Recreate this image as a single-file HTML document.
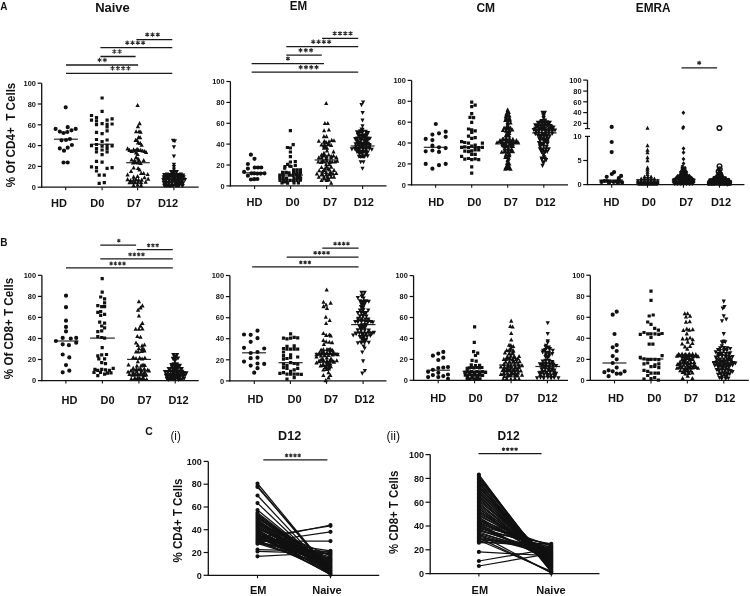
<!DOCTYPE html>
<html><head><meta charset="utf-8"><style>
html,body{margin:0;padding:0;background:#fff;}
svg{display:block;will-change:transform;}
text{font-family:"Liberation Sans",sans-serif;}
</style></head><body>
<svg width="750" height="596" viewBox="0 0 750 596">
<rect width="750" height="596" fill="#fff"/>
<text x="0.3" y="9.6" font-size="10" font-weight="bold" text-anchor="start" fill="#111">A</text><text x="112.5" y="12" font-size="12.2" font-weight="bold" text-anchor="middle" fill="#111" textLength="34.7" lengthAdjust="spacingAndGlyphs">Naive</text><line x1="41.7" y1="83.2" x2="41.7" y2="187.8" stroke="#111" stroke-width="1.3"/><line x1="37.7" y1="83.2" x2="41.7" y2="83.2" stroke="#111" stroke-width="1.2"/><text x="35.9" y="85.9" font-size="7.4" font-weight="bold" text-anchor="end" fill="#111">100</text><line x1="37.7" y1="104" x2="41.7" y2="104" stroke="#111" stroke-width="1.2"/><text x="35.9" y="106.7" font-size="7.4" font-weight="bold" text-anchor="end" fill="#111">80</text><line x1="37.7" y1="124.8" x2="41.7" y2="124.8" stroke="#111" stroke-width="1.2"/><text x="35.9" y="127.5" font-size="7.4" font-weight="bold" text-anchor="end" fill="#111">60</text><line x1="37.7" y1="145.6" x2="41.7" y2="145.6" stroke="#111" stroke-width="1.2"/><text x="35.9" y="148.2" font-size="7.4" font-weight="bold" text-anchor="end" fill="#111">40</text><line x1="37.7" y1="166.4" x2="41.7" y2="166.4" stroke="#111" stroke-width="1.2"/><text x="35.9" y="169" font-size="7.4" font-weight="bold" text-anchor="end" fill="#111">20</text><line x1="37.7" y1="187.2" x2="41.7" y2="187.2" stroke="#111" stroke-width="1.2"/><text x="35.9" y="189.8" font-size="7.4" font-weight="bold" text-anchor="end" fill="#111">0</text><line x1="41.1" y1="187.2" x2="198.7" y2="187.2" stroke="#111" stroke-width="1.3"/><line x1="65.7" y1="187.2" x2="65.7" y2="190.2" stroke="#111" stroke-width="1.1"/><line x1="102.1" y1="187.2" x2="102.1" y2="190.2" stroke="#111" stroke-width="1.1"/><line x1="137.6" y1="187.2" x2="137.6" y2="190.2" stroke="#111" stroke-width="1.1"/><line x1="173.9" y1="187.2" x2="173.9" y2="190.2" stroke="#111" stroke-width="1.1"/><text x="59" y="206.8" font-size="11" font-weight="bold" text-anchor="middle" fill="#111">HD</text><text x="97.3" y="206.8" font-size="11" font-weight="bold" text-anchor="middle" fill="#111">D0</text><text x="134" y="206.8" font-size="11" font-weight="bold" text-anchor="middle" fill="#111">D7</text><text x="168" y="206.8" font-size="11" font-weight="bold" text-anchor="middle" fill="#111">D12</text><text x="15.3" y="134.9" font-size="12.2" font-weight="bold" text-anchor="middle" fill="#111" transform="rotate(-90 15.3 134.9)" textLength="104.5" lengthAdjust="spacingAndGlyphs">% Of CD4+&#160; T Cells</text><line x1="136.4" y1="39.6" x2="172.3" y2="39.6" stroke="#1a1a1a" stroke-width="1.3"/><path d="M147.2 36.8L147.2 32.4M145.3 35.7L149.1 33.5M149.1 35.7L145.3 33.5M152.5 36.8L152.5 32.4M150.6 35.7L154.4 33.5M154.4 35.7L150.6 33.5M157.8 36.8L157.8 32.4M155.9 35.7L159.7 33.5M159.7 35.7L155.9 33.5" stroke="#2a2a2a" stroke-width="1.05" fill="none"/><line x1="100.4" y1="47.7" x2="172.3" y2="47.7" stroke="#1a1a1a" stroke-width="1.3"/><path d="M127.2 44.9L127.2 40.5M125.3 43.8L129.2 41.6M129.2 43.8L125.3 41.6M132.5 44.9L132.5 40.5M130.6 43.8L134.5 41.6M134.5 43.8L130.6 41.6M137.8 44.9L137.8 40.5M135.9 43.8L139.8 41.6M139.8 43.8L135.9 41.6M143.1 44.9L143.1 40.5M141.2 43.8L145.1 41.6M145.1 43.8L141.2 41.6" stroke="#2a2a2a" stroke-width="1.05" fill="none"/><line x1="100.4" y1="56.5" x2="135.6" y2="56.5" stroke="#1a1a1a" stroke-width="1.3"/><path d="M114.3 53.7L114.3 49.3M112.4 52.6L116.3 50.4M116.3 52.6L112.4 50.4M119.7 53.7L119.7 49.3M117.7 52.6L121.6 50.4M121.6 52.6L117.7 50.4" stroke="#2a2a2a" stroke-width="1.05" fill="none"/><line x1="66" y1="65" x2="138.1" y2="65" stroke="#1a1a1a" stroke-width="1.3"/><path d="M99.5 62.2L99.5 57.8M97.6 61.1L101.5 58.9M101.5 61.1L97.6 58.9M104.9 62.2L104.9 57.8M102.9 61.1L106.8 58.9M106.8 61.1L102.9 58.9" stroke="#2a2a2a" stroke-width="1.05" fill="none"/><line x1="66" y1="73.3" x2="172.3" y2="73.3" stroke="#1a1a1a" stroke-width="1.3"/><path d="M112.5 70.5L112.5 66.1M110.6 69.4L114.5 67.2M114.5 69.4L110.6 67.2M117.8 70.5L117.8 66.1M115.9 69.4L119.8 67.2M119.8 69.4L115.9 67.2M123.2 70.5L123.2 66.1M121.2 69.4L125.1 67.2M125.1 69.4L121.2 67.2M128.4 70.5L128.4 66.1M126.5 69.4L130.4 67.2M130.4 69.4L126.5 67.2" stroke="#2a2a2a" stroke-width="1.05" fill="none"/><line x1="53.9" y1="139.2" x2="77.9" y2="139.2" stroke="#262626" stroke-width="1.2"/><line x1="90.3" y1="144.2" x2="113.8" y2="144.2" stroke="#262626" stroke-width="1.2"/><line x1="126.2" y1="162.7" x2="149.7" y2="162.7" stroke="#262626" stroke-width="1.2"/><line x1="161.9" y1="178" x2="185.9" y2="178" stroke="#262626" stroke-width="1.2"/><text x="298.5" y="10.4" font-size="12.2" font-weight="bold" text-anchor="middle" fill="#111" textLength="17.4" lengthAdjust="spacingAndGlyphs">EM</text><line x1="230.4" y1="81.5" x2="230.4" y2="186.5" stroke="#111" stroke-width="1.3"/><line x1="226.4" y1="81.5" x2="230.4" y2="81.5" stroke="#111" stroke-width="1.2"/><text x="224.6" y="84.2" font-size="7.4" font-weight="bold" text-anchor="end" fill="#111">100</text><line x1="226.4" y1="102.4" x2="230.4" y2="102.4" stroke="#111" stroke-width="1.2"/><text x="224.6" y="105" font-size="7.4" font-weight="bold" text-anchor="end" fill="#111">80</text><line x1="226.4" y1="123.3" x2="230.4" y2="123.3" stroke="#111" stroke-width="1.2"/><text x="224.6" y="125.9" font-size="7.4" font-weight="bold" text-anchor="end" fill="#111">60</text><line x1="226.4" y1="144.1" x2="230.4" y2="144.1" stroke="#111" stroke-width="1.2"/><text x="224.6" y="146.8" font-size="7.4" font-weight="bold" text-anchor="end" fill="#111">40</text><line x1="226.4" y1="165" x2="230.4" y2="165" stroke="#111" stroke-width="1.2"/><text x="224.6" y="167.7" font-size="7.4" font-weight="bold" text-anchor="end" fill="#111">20</text><line x1="226.4" y1="185.9" x2="230.4" y2="185.9" stroke="#111" stroke-width="1.2"/><text x="224.6" y="188.6" font-size="7.4" font-weight="bold" text-anchor="end" fill="#111">0</text><line x1="229.8" y1="185.9" x2="386.5" y2="185.9" stroke="#111" stroke-width="1.3"/><line x1="254.6" y1="185.9" x2="254.6" y2="188.9" stroke="#111" stroke-width="1.1"/><line x1="290.6" y1="185.9" x2="290.6" y2="188.9" stroke="#111" stroke-width="1.1"/><line x1="326.6" y1="185.9" x2="326.6" y2="188.9" stroke="#111" stroke-width="1.1"/><line x1="362.6" y1="185.9" x2="362.6" y2="188.9" stroke="#111" stroke-width="1.1"/><text x="254.5" y="206.2" font-size="11" font-weight="bold" text-anchor="middle" fill="#111">HD</text><text x="292.5" y="206.2" font-size="11" font-weight="bold" text-anchor="middle" fill="#111">D0</text><text x="330" y="206.2" font-size="11" font-weight="bold" text-anchor="middle" fill="#111">D7</text><text x="363.8" y="206.2" font-size="11" font-weight="bold" text-anchor="middle" fill="#111">D12</text><line x1="322.1" y1="38.4" x2="358.2" y2="38.4" stroke="#1a1a1a" stroke-width="1.3"/><path d="M334.7 35.6L334.7 31.2M332.7 34.5L336.6 32.3M336.6 34.5L332.7 32.3M340 35.6L340 31.2M338 34.5L341.9 32.3M341.9 34.5L338 32.3M345.2 35.6L345.2 31.2M343.3 34.5L347.2 32.3M347.2 34.5L343.3 32.3M350.6 35.6L350.6 31.2M348.6 34.5L352.5 32.3M352.5 34.5L348.6 32.3" stroke="#2a2a2a" stroke-width="1.05" fill="none"/><line x1="286.3" y1="46.7" x2="358.2" y2="46.7" stroke="#1a1a1a" stroke-width="1.3"/><path d="M313.2 43.9L313.2 39.5M311.3 42.8L315.2 40.6M315.2 42.8L311.3 40.6M318.6 43.9L318.6 39.5M316.6 42.8L320.5 40.6M320.5 42.8L316.6 40.6M323.8 43.9L323.8 39.5M321.9 42.8L325.8 40.6M325.8 42.8L321.9 40.6M329.1 43.9L329.1 39.5M327.2 42.8L331.1 40.6M331.1 42.8L327.2 40.6" stroke="#2a2a2a" stroke-width="1.05" fill="none"/><line x1="286.3" y1="55.2" x2="321.8" y2="55.2" stroke="#1a1a1a" stroke-width="1.3"/><path d="M300.5 52.4L300.5 48M298.6 51.3L302.4 49.1M302.4 51.3L298.6 49.1M305.8 52.4L305.8 48M303.9 51.3L307.7 49.1M307.7 51.3L303.9 49.1M311.1 52.4L311.1 48M309.2 51.3L313 49.1M313 51.3L309.2 49.1" stroke="#2a2a2a" stroke-width="1.05" fill="none"/><line x1="251.6" y1="63.6" x2="324" y2="63.6" stroke="#1a1a1a" stroke-width="1.3"/><path d="M287.9 60.8L287.9 56.4M286 59.7L289.8 57.5M289.8 59.7L286 57.5" stroke="#2a2a2a" stroke-width="1.05" fill="none"/><line x1="251.6" y1="72.2" x2="358.2" y2="72.2" stroke="#1a1a1a" stroke-width="1.3"/><path d="M300.7 69.4L300.7 65M298.7 68.3L302.6 66.1M302.6 68.3L298.7 66.1M306 69.4L306 65M304 68.3L307.9 66.1M307.9 68.3L304 66.1M311.2 69.4L311.2 65M309.3 68.3L313.2 66.1M313.2 68.3L309.3 66.1M316.6 69.4L316.6 65M314.6 68.3L318.5 66.1M318.5 68.3L314.6 66.1" stroke="#2a2a2a" stroke-width="1.05" fill="none"/><line x1="243.3" y1="172.8" x2="265" y2="172.8" stroke="#262626" stroke-width="1.2"/><line x1="279" y1="175" x2="303" y2="175" stroke="#262626" stroke-width="1.2"/><line x1="314.6" y1="160" x2="338.4" y2="160" stroke="#262626" stroke-width="1.2"/><line x1="350.7" y1="146" x2="374.6" y2="146" stroke="#262626" stroke-width="1.2"/><text x="485.8" y="12" font-size="12.2" font-weight="bold" text-anchor="middle" fill="#111" textLength="18.7" lengthAdjust="spacingAndGlyphs">CM</text><line x1="411.6" y1="80.4" x2="411.6" y2="185.4" stroke="#111" stroke-width="1.3"/><line x1="407.6" y1="80.4" x2="411.6" y2="80.4" stroke="#111" stroke-width="1.2"/><text x="405.8" y="83.1" font-size="7.4" font-weight="bold" text-anchor="end" fill="#111">100</text><line x1="407.6" y1="101.3" x2="411.6" y2="101.3" stroke="#111" stroke-width="1.2"/><text x="405.8" y="103.9" font-size="7.4" font-weight="bold" text-anchor="end" fill="#111">80</text><line x1="407.6" y1="122.2" x2="411.6" y2="122.2" stroke="#111" stroke-width="1.2"/><text x="405.8" y="124.8" font-size="7.4" font-weight="bold" text-anchor="end" fill="#111">60</text><line x1="407.6" y1="143" x2="411.6" y2="143" stroke="#111" stroke-width="1.2"/><text x="405.8" y="145.7" font-size="7.4" font-weight="bold" text-anchor="end" fill="#111">40</text><line x1="407.6" y1="163.9" x2="411.6" y2="163.9" stroke="#111" stroke-width="1.2"/><text x="405.8" y="166.6" font-size="7.4" font-weight="bold" text-anchor="end" fill="#111">20</text><line x1="407.6" y1="184.8" x2="411.6" y2="184.8" stroke="#111" stroke-width="1.2"/><text x="405.8" y="187.5" font-size="7.4" font-weight="bold" text-anchor="end" fill="#111">0</text><line x1="411" y1="184.8" x2="568" y2="184.8" stroke="#111" stroke-width="1.3"/><line x1="435.6" y1="184.8" x2="435.6" y2="187.8" stroke="#111" stroke-width="1.1"/><line x1="471.7" y1="184.8" x2="471.7" y2="187.8" stroke="#111" stroke-width="1.1"/><line x1="507.7" y1="184.8" x2="507.7" y2="187.8" stroke="#111" stroke-width="1.1"/><line x1="543.8" y1="184.8" x2="543.8" y2="187.8" stroke="#111" stroke-width="1.1"/><text x="436.2" y="205.7" font-size="11" font-weight="bold" text-anchor="middle" fill="#111">HD</text><text x="474.3" y="205.7" font-size="11" font-weight="bold" text-anchor="middle" fill="#111">D0</text><text x="510.8" y="205.7" font-size="11" font-weight="bold" text-anchor="middle" fill="#111">D7</text><text x="545.6" y="205.7" font-size="11" font-weight="bold" text-anchor="middle" fill="#111">D12</text><line x1="423.8" y1="147.3" x2="445.7" y2="147.3" stroke="#262626" stroke-width="1.2"/><line x1="460" y1="147.3" x2="483.5" y2="147.3" stroke="#262626" stroke-width="1.2"/><line x1="495.9" y1="142.6" x2="519.4" y2="142.6" stroke="#262626" stroke-width="1.2"/><line x1="532.2" y1="132.9" x2="556.6" y2="132.9" stroke="#262626" stroke-width="1.2"/><text x="653.2" y="12" font-size="12.2" font-weight="bold" text-anchor="middle" fill="#111" textLength="34.7" lengthAdjust="spacingAndGlyphs">EMRA</text><line x1="587.5" y1="80.1" x2="587.5" y2="128.6" stroke="#111" stroke-width="1.3"/><line x1="583.2" y1="80.1" x2="587.5" y2="80.1" stroke="#111" stroke-width="1.2"/><text x="581.6" y="82.8" font-size="7.4" font-weight="bold" text-anchor="end" fill="#111">100</text><line x1="583.2" y1="91.1" x2="587.5" y2="91.1" stroke="#111" stroke-width="1.2"/><text x="581.6" y="93.8" font-size="7.4" font-weight="bold" text-anchor="end" fill="#111">80</text><line x1="583.2" y1="101.8" x2="587.5" y2="101.8" stroke="#111" stroke-width="1.2"/><text x="581.6" y="104.5" font-size="7.4" font-weight="bold" text-anchor="end" fill="#111">60</text><line x1="583.2" y1="112.6" x2="587.5" y2="112.6" stroke="#111" stroke-width="1.2"/><text x="581.6" y="115.2" font-size="7.4" font-weight="bold" text-anchor="end" fill="#111">40</text><line x1="583.2" y1="123.4" x2="587.5" y2="123.4" stroke="#111" stroke-width="1.2"/><text x="581.6" y="126.1" font-size="7.4" font-weight="bold" text-anchor="end" fill="#111">20</text><line x1="585" y1="128.6" x2="590" y2="128.6" stroke="#111" stroke-width="1.2"/><line x1="587.5" y1="136.4" x2="587.5" y2="185.1" stroke="#111" stroke-width="1.3"/><line x1="585" y1="136.4" x2="590" y2="136.4" stroke="#111" stroke-width="1.2"/><text x="581.6" y="139.1" font-size="7.4" font-weight="bold" text-anchor="end" fill="#111">10</text><line x1="583.2" y1="160.5" x2="587.5" y2="160.5" stroke="#111" stroke-width="1.2"/><text x="581.6" y="163.2" font-size="7.4" font-weight="bold" text-anchor="end" fill="#111">5</text><line x1="583.2" y1="184.6" x2="587.5" y2="184.6" stroke="#111" stroke-width="1.2"/><text x="581.6" y="187.2" font-size="7.4" font-weight="bold" text-anchor="end" fill="#111">0</text><line x1="586.9" y1="184.6" x2="744.4" y2="184.6" stroke="#111" stroke-width="1.3"/><line x1="611.7" y1="184.7" x2="611.7" y2="187.7" stroke="#111" stroke-width="1.1"/><line x1="647.5" y1="184.7" x2="647.5" y2="187.7" stroke="#111" stroke-width="1.1"/><line x1="683.4" y1="184.7" x2="683.4" y2="187.7" stroke="#111" stroke-width="1.1"/><line x1="719.4" y1="184.7" x2="719.4" y2="187.7" stroke="#111" stroke-width="1.1"/><text x="611.4" y="206.2" font-size="11" font-weight="bold" text-anchor="middle" fill="#111">HD</text><text x="648.8" y="206.2" font-size="11" font-weight="bold" text-anchor="middle" fill="#111">D0</text><text x="686.2" y="206.2" font-size="11" font-weight="bold" text-anchor="middle" fill="#111">D7</text><text x="721" y="206.2" font-size="11" font-weight="bold" text-anchor="middle" fill="#111">D12</text><line x1="681.5" y1="67.9" x2="717.1" y2="67.9" stroke="#1a1a1a" stroke-width="1.3"/><path d="M699.2 65.1L699.2 60.7M697.3 64L701.1 61.8M701.1 64L697.3 61.8" stroke="#2a2a2a" stroke-width="1.05" fill="none"/><line x1="599.2" y1="180.1" x2="623" y2="180.1" stroke="#262626" stroke-width="1.2"/><line x1="636" y1="179.8" x2="659.6" y2="179.8" stroke="#262626" stroke-width="1.2"/><line x1="672" y1="179.2" x2="695.5" y2="179.2" stroke="#262626" stroke-width="1.2"/><line x1="707.5" y1="181" x2="731.5" y2="181" stroke="#262626" stroke-width="1.2"/><text x="0.3" y="245.6" font-size="10" font-weight="bold" text-anchor="start" fill="#111">B</text><line x1="41.9" y1="275.3" x2="41.9" y2="381.2" stroke="#111" stroke-width="1.3"/><line x1="37.9" y1="275.3" x2="41.9" y2="275.3" stroke="#111" stroke-width="1.2"/><text x="36.1" y="277.9" font-size="7.4" font-weight="bold" text-anchor="end" fill="#111">100</text><line x1="37.9" y1="296.4" x2="41.9" y2="296.4" stroke="#111" stroke-width="1.2"/><text x="36.1" y="299" font-size="7.4" font-weight="bold" text-anchor="end" fill="#111">80</text><line x1="37.9" y1="317.4" x2="41.9" y2="317.4" stroke="#111" stroke-width="1.2"/><text x="36.1" y="320.1" font-size="7.4" font-weight="bold" text-anchor="end" fill="#111">60</text><line x1="37.9" y1="338.5" x2="41.9" y2="338.5" stroke="#111" stroke-width="1.2"/><text x="36.1" y="341.1" font-size="7.4" font-weight="bold" text-anchor="end" fill="#111">40</text><line x1="37.9" y1="359.5" x2="41.9" y2="359.5" stroke="#111" stroke-width="1.2"/><text x="36.1" y="362.2" font-size="7.4" font-weight="bold" text-anchor="end" fill="#111">20</text><line x1="37.9" y1="380.6" x2="41.9" y2="380.6" stroke="#111" stroke-width="1.2"/><text x="36.1" y="383.2" font-size="7.4" font-weight="bold" text-anchor="end" fill="#111">0</text><line x1="41.3" y1="380.6" x2="198.7" y2="380.6" stroke="#111" stroke-width="1.3"/><line x1="65.9" y1="380.6" x2="65.9" y2="383.6" stroke="#111" stroke-width="1.1"/><line x1="102.4" y1="380.6" x2="102.4" y2="383.6" stroke="#111" stroke-width="1.1"/><line x1="138.9" y1="380.6" x2="138.9" y2="383.6" stroke="#111" stroke-width="1.1"/><line x1="175.2" y1="380.6" x2="175.2" y2="383.6" stroke="#111" stroke-width="1.1"/><text x="69.4" y="403.8" font-size="11" font-weight="bold" text-anchor="middle" fill="#111">HD</text><text x="107.6" y="403.8" font-size="11" font-weight="bold" text-anchor="middle" fill="#111">D0</text><text x="144.5" y="403.8" font-size="11" font-weight="bold" text-anchor="middle" fill="#111">D7</text><text x="178.5" y="403.8" font-size="11" font-weight="bold" text-anchor="middle" fill="#111">D12</text><text x="12.9" y="328.5" font-size="12.2" font-weight="bold" text-anchor="middle" fill="#111" transform="rotate(-90 12.9 328.5)" textLength="101.3" lengthAdjust="spacingAndGlyphs">% Of CD8+ T Cells</text><line x1="100.3" y1="245.1" x2="136.1" y2="245.1" stroke="#1a1a1a" stroke-width="1.3"/><path d="M118.8 242.6L118.8 238.8M117.2 241.6L120.4 239.8M120.4 241.6L117.2 239.8" stroke="#2a2a2a" stroke-width="1.05" fill="none"/><line x1="136.8" y1="249.7" x2="172.8" y2="249.7" stroke="#1a1a1a" stroke-width="1.3"/><path d="M148.6 247.2L148.6 243.4M147 246.2L150.2 244.3M150.2 246.2L147 244.3M152.9 247.2L152.9 243.4M151.3 246.2L154.5 244.3M154.5 246.2L151.3 244.3M157.2 247.2L157.2 243.4M155.6 246.2L158.8 244.3M158.8 246.2L155.6 244.3" stroke="#2a2a2a" stroke-width="1.05" fill="none"/><line x1="100.3" y1="258.8" x2="172.8" y2="258.8" stroke="#1a1a1a" stroke-width="1.3"/><path d="M130.1 256.3L130.1 252.5M128.4 255.3L131.7 253.5M131.7 255.3L128.4 253.5M134.3 256.3L134.3 252.5M132.7 255.3L136 253.5M136 255.3L132.7 253.5M138.7 256.3L138.7 252.5M137 255.3L140.3 253.5M140.3 255.3L137 253.5M142.9 256.3L142.9 252.5M141.3 255.3L144.6 253.5M144.6 255.3L141.3 253.5" stroke="#2a2a2a" stroke-width="1.05" fill="none"/><line x1="66" y1="267.9" x2="172.8" y2="267.9" stroke="#1a1a1a" stroke-width="1.3"/><path d="M111.1 265.4L111.1 261.6M109.5 264.4L112.8 262.6M112.8 264.4L109.5 262.6M115.4 265.4L115.4 261.6M113.8 264.4L117.1 262.6M117.1 264.4L113.8 262.6M119.8 265.4L119.8 261.6M118.1 264.4L121.4 262.6M121.4 264.4L118.1 262.6M124 265.4L124 261.6M122.4 264.4L125.7 262.6M125.7 264.4L122.4 262.6" stroke="#2a2a2a" stroke-width="1.05" fill="none"/><line x1="54.4" y1="341" x2="78.5" y2="341" stroke="#262626" stroke-width="1.2"/><line x1="90.1" y1="338.1" x2="114.8" y2="338.1" stroke="#262626" stroke-width="1.2"/><line x1="127.1" y1="359.4" x2="150.9" y2="359.4" stroke="#262626" stroke-width="1.2"/><line x1="229.9" y1="275.5" x2="229.9" y2="381.5" stroke="#111" stroke-width="1.3"/><line x1="225.9" y1="275.5" x2="229.9" y2="275.5" stroke="#111" stroke-width="1.2"/><text x="224.1" y="278.1" font-size="7.4" font-weight="bold" text-anchor="end" fill="#111">100</text><line x1="225.9" y1="296.6" x2="229.9" y2="296.6" stroke="#111" stroke-width="1.2"/><text x="224.1" y="299.2" font-size="7.4" font-weight="bold" text-anchor="end" fill="#111">80</text><line x1="225.9" y1="317.7" x2="229.9" y2="317.7" stroke="#111" stroke-width="1.2"/><text x="224.1" y="320.3" font-size="7.4" font-weight="bold" text-anchor="end" fill="#111">60</text><line x1="225.9" y1="338.7" x2="229.9" y2="338.7" stroke="#111" stroke-width="1.2"/><text x="224.1" y="341.4" font-size="7.4" font-weight="bold" text-anchor="end" fill="#111">40</text><line x1="225.9" y1="359.8" x2="229.9" y2="359.8" stroke="#111" stroke-width="1.2"/><text x="224.1" y="362.5" font-size="7.4" font-weight="bold" text-anchor="end" fill="#111">20</text><line x1="225.9" y1="380.9" x2="229.9" y2="380.9" stroke="#111" stroke-width="1.2"/><text x="224.1" y="383.5" font-size="7.4" font-weight="bold" text-anchor="end" fill="#111">0</text><line x1="229.3" y1="380.9" x2="386.5" y2="380.9" stroke="#111" stroke-width="1.3"/><line x1="254.3" y1="380.9" x2="254.3" y2="383.9" stroke="#111" stroke-width="1.1"/><line x1="290.4" y1="380.9" x2="290.4" y2="383.9" stroke="#111" stroke-width="1.1"/><line x1="326.5" y1="380.9" x2="326.5" y2="383.9" stroke="#111" stroke-width="1.1"/><line x1="363.1" y1="380.9" x2="363.1" y2="383.9" stroke="#111" stroke-width="1.1"/><text x="255.5" y="402.6" font-size="11" font-weight="bold" text-anchor="middle" fill="#111">HD</text><text x="294.5" y="402.6" font-size="11" font-weight="bold" text-anchor="middle" fill="#111">D0</text><text x="331" y="402.6" font-size="11" font-weight="bold" text-anchor="middle" fill="#111">D7</text><text x="364.5" y="402.6" font-size="11" font-weight="bold" text-anchor="middle" fill="#111">D12</text><line x1="322.3" y1="248.1" x2="358.6" y2="248.1" stroke="#1a1a1a" stroke-width="1.3"/><path d="M335.1 245.6L335.1 241.8M333.4 244.6L336.7 242.8M336.7 244.6L333.4 242.8M339.4 245.6L339.4 241.8M337.7 244.6L341 242.8M341 244.6L337.7 242.8M343.6 245.6L343.6 241.8M342 244.6L345.3 242.8M345.3 244.6L342 242.8M347.9 245.6L347.9 241.8M346.3 244.6L349.6 242.8M349.6 244.6L346.3 242.8" stroke="#2a2a2a" stroke-width="1.05" fill="none"/><line x1="286.7" y1="257.2" x2="358.6" y2="257.2" stroke="#1a1a1a" stroke-width="1.3"/><path d="M315.2 254.7L315.2 250.9M313.5 253.7L316.8 251.8M316.8 253.7L313.5 251.8M319.5 254.7L319.5 250.9M317.8 253.7L321.1 251.8M321.1 253.7L317.8 251.8M323.8 254.7L323.8 250.9M322.1 253.7L325.4 251.8M325.4 253.7L322.1 251.8M328.1 254.7L328.1 250.9M326.4 253.7L329.7 251.8M329.7 253.7L326.4 251.8" stroke="#2a2a2a" stroke-width="1.05" fill="none"/><line x1="252.2" y1="266.8" x2="358.6" y2="266.8" stroke="#1a1a1a" stroke-width="1.3"/><path d="M300.8 264.3L300.8 260.5M299.2 263.4L302.4 261.5M302.4 263.4L299.2 261.5M305.1 264.3L305.1 260.5M303.5 263.4L306.7 261.5M306.7 263.4L303.5 261.5M309.4 264.3L309.4 260.5M307.8 263.4L311 261.5M311 263.4L307.8 261.5" stroke="#2a2a2a" stroke-width="1.05" fill="none"/><line x1="242.1" y1="352.8" x2="266.1" y2="352.8" stroke="#262626" stroke-width="1.2"/><line x1="278.5" y1="362.7" x2="302.7" y2="362.7" stroke="#262626" stroke-width="1.2"/><line x1="314.7" y1="353.4" x2="339.4" y2="353.4" stroke="#262626" stroke-width="1.2"/><line x1="351.1" y1="324.6" x2="375.5" y2="324.6" stroke="#262626" stroke-width="1.2"/><line x1="413.6" y1="275.6" x2="413.6" y2="380.9" stroke="#111" stroke-width="1.3"/><line x1="409.6" y1="275.6" x2="413.6" y2="275.6" stroke="#111" stroke-width="1.2"/><text x="407.8" y="278.2" font-size="7.4" font-weight="bold" text-anchor="end" fill="#111">100</text><line x1="409.6" y1="296.5" x2="413.6" y2="296.5" stroke="#111" stroke-width="1.2"/><text x="407.8" y="299.2" font-size="7.4" font-weight="bold" text-anchor="end" fill="#111">80</text><line x1="409.6" y1="317.5" x2="413.6" y2="317.5" stroke="#111" stroke-width="1.2"/><text x="407.8" y="320.1" font-size="7.4" font-weight="bold" text-anchor="end" fill="#111">60</text><line x1="409.6" y1="338.4" x2="413.6" y2="338.4" stroke="#111" stroke-width="1.2"/><text x="407.8" y="341.1" font-size="7.4" font-weight="bold" text-anchor="end" fill="#111">40</text><line x1="409.6" y1="359.4" x2="413.6" y2="359.4" stroke="#111" stroke-width="1.2"/><text x="407.8" y="362" font-size="7.4" font-weight="bold" text-anchor="end" fill="#111">20</text><line x1="409.6" y1="380.3" x2="413.6" y2="380.3" stroke="#111" stroke-width="1.2"/><text x="407.8" y="382.9" font-size="7.4" font-weight="bold" text-anchor="end" fill="#111">0</text><line x1="413" y1="380.3" x2="568" y2="380.3" stroke="#111" stroke-width="1.3"/><line x1="438.2" y1="380.3" x2="438.2" y2="383.3" stroke="#111" stroke-width="1.1"/><line x1="474.6" y1="380.3" x2="474.6" y2="383.3" stroke="#111" stroke-width="1.1"/><line x1="511.1" y1="380.3" x2="511.1" y2="383.3" stroke="#111" stroke-width="1.1"/><line x1="547.4" y1="380.3" x2="547.4" y2="383.3" stroke="#111" stroke-width="1.1"/><text x="438.2" y="401.6" font-size="11" font-weight="bold" text-anchor="middle" fill="#111">HD</text><text x="475.6" y="401.6" font-size="11" font-weight="bold" text-anchor="middle" fill="#111">D0</text><text x="512.1" y="401.6" font-size="11" font-weight="bold" text-anchor="middle" fill="#111">D7</text><text x="547.5" y="401.6" font-size="11" font-weight="bold" text-anchor="middle" fill="#111">D12</text><line x1="426.5" y1="370.2" x2="450" y2="370.2" stroke="#262626" stroke-width="1.2"/><line x1="462.6" y1="371.3" x2="486.8" y2="371.3" stroke="#262626" stroke-width="1.2"/><line x1="499.1" y1="365" x2="523.2" y2="365" stroke="#262626" stroke-width="1.2"/><line x1="535.4" y1="366.5" x2="560.1" y2="366.5" stroke="#262626" stroke-width="1.2"/><line x1="590.3" y1="275.2" x2="590.3" y2="381" stroke="#111" stroke-width="1.3"/><line x1="586.3" y1="275.2" x2="590.3" y2="275.2" stroke="#111" stroke-width="1.2"/><text x="584.5" y="277.8" font-size="7.4" font-weight="bold" text-anchor="end" fill="#111">100</text><line x1="586.3" y1="296.2" x2="590.3" y2="296.2" stroke="#111" stroke-width="1.2"/><text x="584.5" y="298.9" font-size="7.4" font-weight="bold" text-anchor="end" fill="#111">80</text><line x1="586.3" y1="317.3" x2="590.3" y2="317.3" stroke="#111" stroke-width="1.2"/><text x="584.5" y="319.9" font-size="7.4" font-weight="bold" text-anchor="end" fill="#111">60</text><line x1="586.3" y1="338.3" x2="590.3" y2="338.3" stroke="#111" stroke-width="1.2"/><text x="584.5" y="341" font-size="7.4" font-weight="bold" text-anchor="end" fill="#111">40</text><line x1="586.3" y1="359.4" x2="590.3" y2="359.4" stroke="#111" stroke-width="1.2"/><text x="584.5" y="362" font-size="7.4" font-weight="bold" text-anchor="end" fill="#111">20</text><line x1="586.3" y1="380.4" x2="590.3" y2="380.4" stroke="#111" stroke-width="1.2"/><text x="584.5" y="383" font-size="7.4" font-weight="bold" text-anchor="end" fill="#111">0</text><line x1="589.7" y1="380.4" x2="748.8" y2="380.4" stroke="#111" stroke-width="1.3"/><line x1="614.5" y1="380.4" x2="614.5" y2="383.4" stroke="#111" stroke-width="1.1"/><line x1="651" y1="380.4" x2="651" y2="383.4" stroke="#111" stroke-width="1.1"/><line x1="687.3" y1="380.4" x2="687.3" y2="383.4" stroke="#111" stroke-width="1.1"/><line x1="723.8" y1="380.4" x2="723.8" y2="383.4" stroke="#111" stroke-width="1.1"/><text x="616" y="402.4" font-size="11" font-weight="bold" text-anchor="middle" fill="#111">HD</text><text x="654.3" y="402.4" font-size="11" font-weight="bold" text-anchor="middle" fill="#111">D0</text><text x="691.1" y="402.4" font-size="11" font-weight="bold" text-anchor="middle" fill="#111">D7</text><text x="725.2" y="402.4" font-size="11" font-weight="bold" text-anchor="middle" fill="#111">D12</text><line x1="602.5" y1="363" x2="626.5" y2="363" stroke="#262626" stroke-width="1.2"/><line x1="639.4" y1="359" x2="663.4" y2="359" stroke="#262626" stroke-width="1.2"/><line x1="675.6" y1="356.3" x2="699" y2="356.3" stroke="#262626" stroke-width="1.2"/><line x1="712" y1="362.6" x2="736" y2="362.6" stroke="#262626" stroke-width="1.2"/><text x="145.2" y="434.6" font-size="10.4" font-weight="bold" text-anchor="start" fill="#111">C</text><text x="175.6" y="439.7" font-size="13.6" font-weight="normal" text-anchor="middle" fill="#111" textLength="10.4" lengthAdjust="spacingAndGlyphs">(i)</text><text x="289.6" y="439.6" font-size="12.2" font-weight="bold" text-anchor="middle" fill="#111" textLength="23.1" lengthAdjust="spacingAndGlyphs">D12</text><line x1="208.3" y1="461.4" x2="208.3" y2="575.9" stroke="#111" stroke-width="1.3"/><line x1="203.6" y1="461.4" x2="208.3" y2="461.4" stroke="#111" stroke-width="1.2"/><text x="201.8" y="464.6" font-size="9.0" font-weight="bold" text-anchor="end" fill="#111">100</text><line x1="203.6" y1="484.2" x2="208.3" y2="484.2" stroke="#111" stroke-width="1.2"/><text x="201.8" y="487.4" font-size="9.0" font-weight="bold" text-anchor="end" fill="#111">80</text><line x1="203.6" y1="507" x2="208.3" y2="507" stroke="#111" stroke-width="1.2"/><text x="201.8" y="510.2" font-size="9.0" font-weight="bold" text-anchor="end" fill="#111">60</text><line x1="203.6" y1="529.7" x2="208.3" y2="529.7" stroke="#111" stroke-width="1.2"/><text x="201.8" y="533" font-size="9.0" font-weight="bold" text-anchor="end" fill="#111">40</text><line x1="203.6" y1="552.5" x2="208.3" y2="552.5" stroke="#111" stroke-width="1.2"/><text x="201.8" y="555.8" font-size="9.0" font-weight="bold" text-anchor="end" fill="#111">20</text><line x1="203.6" y1="575.3" x2="208.3" y2="575.3" stroke="#111" stroke-width="1.2"/><text x="201.8" y="578.5" font-size="9.0" font-weight="bold" text-anchor="end" fill="#111">0</text><line x1="207.7" y1="575.3" x2="379.3" y2="575.3" stroke="#111" stroke-width="1.3"/><line x1="257.5" y1="575.3" x2="257.5" y2="578.3" stroke="#111" stroke-width="1.1"/><line x1="330.5" y1="575.3" x2="330.5" y2="578.3" stroke="#111" stroke-width="1.1"/><text x="258.2" y="593.8" font-size="11" font-weight="bold" text-anchor="middle" fill="#111">EM</text><text x="327" y="593.8" font-size="11" font-weight="bold" text-anchor="middle" fill="#111">Naive</text><text x="182.3" y="520.5" font-size="12.2" font-weight="bold" text-anchor="middle" fill="#111" transform="rotate(-90 182.3 520.5)" textLength="84" lengthAdjust="spacingAndGlyphs">% CD4+ T Cells</text><line x1="263.3" y1="459.8" x2="327.4" y2="459.8" stroke="#1a1a1a" stroke-width="1.3"/><path d="M286.6 457.2L286.6 453.6M285 456.3L288.2 454.5M288.2 456.3L285 454.5M290.8 457.2L290.8 453.6M289.2 456.3L292.4 454.5M292.4 456.3L289.2 454.5M295 457.2L295 453.6M293.4 456.3L296.6 454.5M296.6 456.3L293.4 454.5M299.2 457.2L299.2 453.6M297.6 456.3L300.8 454.5M300.8 456.3L297.6 454.5" stroke="#2a2a2a" stroke-width="1.05" fill="none"/><line x1="257.5" y1="483.5" x2="330.5" y2="571.9" stroke="#111" stroke-width="1.25"/><line x1="257.5" y1="486.2" x2="330.5" y2="573" stroke="#111" stroke-width="1.25"/><line x1="257.5" y1="487" x2="330.5" y2="570.7" stroke="#111" stroke-width="1.25"/><line x1="257.5" y1="495.5" x2="330.5" y2="573.6" stroke="#111" stroke-width="1.25"/><line x1="257.5" y1="503.1" x2="330.5" y2="572.5" stroke="#111" stroke-width="1.25"/><line x1="257.5" y1="510.1" x2="330.5" y2="569.6" stroke="#111" stroke-width="1.25"/><line x1="257.5" y1="512.7" x2="330.5" y2="568.5" stroke="#111" stroke-width="1.25"/><line x1="257.5" y1="513.8" x2="330.5" y2="571.9" stroke="#111" stroke-width="1.25"/><line x1="257.5" y1="514.9" x2="330.5" y2="566.2" stroke="#111" stroke-width="1.25"/><line x1="257.5" y1="516.1" x2="330.5" y2="570.7" stroke="#111" stroke-width="1.25"/><line x1="257.5" y1="517.2" x2="330.5" y2="563.9" stroke="#111" stroke-width="1.25"/><line x1="257.5" y1="518.3" x2="330.5" y2="567.3" stroke="#111" stroke-width="1.25"/><line x1="257.5" y1="519.5" x2="330.5" y2="573" stroke="#111" stroke-width="1.25"/><line x1="257.5" y1="520.6" x2="330.5" y2="565" stroke="#111" stroke-width="1.25"/><line x1="257.5" y1="521.8" x2="330.5" y2="561.6" stroke="#111" stroke-width="1.25"/><line x1="257.5" y1="522.9" x2="330.5" y2="569.6" stroke="#111" stroke-width="1.25"/><line x1="257.5" y1="524" x2="330.5" y2="571.9" stroke="#111" stroke-width="1.25"/><line x1="257.5" y1="525.2" x2="330.5" y2="562.8" stroke="#111" stroke-width="1.25"/><line x1="257.5" y1="526.3" x2="330.5" y2="566.2" stroke="#111" stroke-width="1.25"/><line x1="257.5" y1="527.5" x2="330.5" y2="568.5" stroke="#111" stroke-width="1.25"/><line x1="257.5" y1="528.6" x2="330.5" y2="559.4" stroke="#111" stroke-width="1.25"/><line x1="257.5" y1="529.7" x2="330.5" y2="570.7" stroke="#111" stroke-width="1.25"/><line x1="257.5" y1="530.9" x2="330.5" y2="565" stroke="#111" stroke-width="1.25"/><line x1="257.5" y1="532" x2="330.5" y2="573" stroke="#111" stroke-width="1.25"/><line x1="257.5" y1="533.2" x2="330.5" y2="560.5" stroke="#111" stroke-width="1.25"/><line x1="257.5" y1="534.3" x2="330.5" y2="567.3" stroke="#111" stroke-width="1.25"/><line x1="257.5" y1="535.4" x2="330.5" y2="557.1" stroke="#111" stroke-width="1.25"/><line x1="257.5" y1="536.6" x2="330.5" y2="569.6" stroke="#111" stroke-width="1.25"/><line x1="257.5" y1="537.7" x2="330.5" y2="563.9" stroke="#111" stroke-width="1.25"/><line x1="257.5" y1="538.9" x2="330.5" y2="554.8" stroke="#111" stroke-width="1.25"/><line x1="257.5" y1="540" x2="330.5" y2="571.9" stroke="#111" stroke-width="1.25"/><line x1="257.5" y1="541.1" x2="330.5" y2="561.6" stroke="#111" stroke-width="1.25"/><line x1="257.5" y1="541.7" x2="330.5" y2="568.5" stroke="#111" stroke-width="1.25"/><line x1="257.5" y1="542.3" x2="330.5" y2="558.2" stroke="#111" stroke-width="1.25"/><line x1="257.5" y1="543.4" x2="330.5" y2="566.2" stroke="#111" stroke-width="1.25"/><line x1="257.5" y1="543.7" x2="330.5" y2="552.5" stroke="#111" stroke-width="1.25"/><line x1="257.5" y1="540" x2="330.5" y2="525" stroke="#111" stroke-width="1.25"/><line x1="257.5" y1="537.7" x2="330.5" y2="525.8" stroke="#111" stroke-width="1.25"/><line x1="257.5" y1="542.5" x2="330.5" y2="531.8" stroke="#111" stroke-width="1.25"/><line x1="257.5" y1="541.1" x2="330.5" y2="541.1" stroke="#111" stroke-width="1.25"/><line x1="257.5" y1="540" x2="330.5" y2="550.8" stroke="#111" stroke-width="1.25"/><line x1="257.5" y1="549.6" x2="330.5" y2="551.4" stroke="#111" stroke-width="1.25"/><line x1="257.5" y1="551.4" x2="330.5" y2="553.7" stroke="#111" stroke-width="1.25"/><line x1="257.5" y1="556.3" x2="330.5" y2="552.5" stroke="#111" stroke-width="1.25"/><line x1="257.5" y1="524" x2="330.5" y2="555.9" stroke="#111" stroke-width="1.25"/><line x1="257.5" y1="529.7" x2="330.5" y2="574.2" stroke="#111" stroke-width="1.25"/><line x1="257.5" y1="534.3" x2="330.5" y2="574.7" stroke="#111" stroke-width="1.25"/><line x1="257.5" y1="518.3" x2="330.5" y2="560.5" stroke="#111" stroke-width="1.25"/><line x1="257.5" y1="536.6" x2="330.5" y2="574.2" stroke="#111" stroke-width="1.25"/><line x1="257.5" y1="521.8" x2="330.5" y2="568.5" stroke="#111" stroke-width="1.25"/><line x1="257.5" y1="526.3" x2="330.5" y2="571.9" stroke="#111" stroke-width="1.25"/><line x1="257.5" y1="530.9" x2="330.5" y2="569.6" stroke="#111" stroke-width="1.25"/><line x1="257.5" y1="516.1" x2="330.5" y2="574.2" stroke="#111" stroke-width="1.25"/><line x1="257.5" y1="533.2" x2="330.5" y2="565" stroke="#111" stroke-width="1.25"/><line x1="257.5" y1="528.6" x2="330.5" y2="562.8" stroke="#111" stroke-width="1.25"/><line x1="257.5" y1="535.4" x2="330.5" y2="570.7" stroke="#111" stroke-width="1.25"/><text x="393.3" y="439.7" font-size="13.6" font-weight="normal" text-anchor="middle" fill="#111" textLength="13.6" lengthAdjust="spacingAndGlyphs">(ii)</text><text x="508.6" y="439.6" font-size="12.2" font-weight="bold" text-anchor="middle" fill="#111" textLength="22" lengthAdjust="spacingAndGlyphs">D12</text><line x1="430.2" y1="454.6" x2="430.2" y2="574.2" stroke="#111" stroke-width="1.3"/><line x1="425.5" y1="454.6" x2="430.2" y2="454.6" stroke="#111" stroke-width="1.2"/><text x="424.1" y="457.9" font-size="9.0" font-weight="bold" text-anchor="end" fill="#111">100</text><line x1="425.5" y1="478.4" x2="430.2" y2="478.4" stroke="#111" stroke-width="1.2"/><text x="424.1" y="481.7" font-size="9.0" font-weight="bold" text-anchor="end" fill="#111">80</text><line x1="425.5" y1="502.2" x2="430.2" y2="502.2" stroke="#111" stroke-width="1.2"/><text x="424.1" y="505.5" font-size="9.0" font-weight="bold" text-anchor="end" fill="#111">60</text><line x1="425.5" y1="526" x2="430.2" y2="526" stroke="#111" stroke-width="1.2"/><text x="424.1" y="529.2" font-size="9.0" font-weight="bold" text-anchor="end" fill="#111">40</text><line x1="425.5" y1="549.8" x2="430.2" y2="549.8" stroke="#111" stroke-width="1.2"/><text x="424.1" y="553.1" font-size="9.0" font-weight="bold" text-anchor="end" fill="#111">20</text><line x1="425.5" y1="573.6" x2="430.2" y2="573.6" stroke="#111" stroke-width="1.2"/><text x="424.1" y="576.9" font-size="9.0" font-weight="bold" text-anchor="end" fill="#111">0</text><line x1="429.6" y1="573.6" x2="599.5" y2="573.6" stroke="#111" stroke-width="1.3"/><line x1="478.9" y1="573.6" x2="478.9" y2="576.6" stroke="#111" stroke-width="1.1"/><line x1="551.3" y1="573.6" x2="551.3" y2="576.6" stroke="#111" stroke-width="1.1"/><text x="479.8" y="593.8" font-size="11" font-weight="bold" text-anchor="middle" fill="#111">EM</text><text x="551" y="593.8" font-size="11" font-weight="bold" text-anchor="middle" fill="#111">Naive</text><text x="398.1" y="512.4" font-size="12.2" font-weight="bold" text-anchor="middle" fill="#111" transform="rotate(-90 398.1 512.4)" textLength="83.4" lengthAdjust="spacingAndGlyphs">% CD8+ T Cells</text><line x1="478.5" y1="453.6" x2="541.6" y2="453.6" stroke="#1a1a1a" stroke-width="1.3"/><path d="M503.5 451L503.5 447.4M501.9 450.1L505.1 448.3M505.1 450.1L501.9 448.3M507.7 451L507.7 447.4M506.1 450.1L509.3 448.3M509.3 450.1L506.1 448.3M511.9 451L511.9 447.4M510.3 450.1L513.5 448.3M513.5 450.1L510.3 448.3M516.1 451L516.1 447.4M514.5 450.1L517.7 448.3M517.7 450.1L514.5 448.3" stroke="#2a2a2a" stroke-width="1.05" fill="none"/><line x1="478.9" y1="474.5" x2="551.3" y2="571.9" stroke="#111" stroke-width="1.25"/><line x1="478.9" y1="475.8" x2="551.3" y2="569.3" stroke="#111" stroke-width="1.25"/><line x1="478.9" y1="477.1" x2="551.3" y2="570.2" stroke="#111" stroke-width="1.25"/><line x1="478.9" y1="478.5" x2="551.3" y2="568.1" stroke="#111" stroke-width="1.25"/><line x1="478.9" y1="479.8" x2="551.3" y2="567.5" stroke="#111" stroke-width="1.25"/><line x1="478.9" y1="481.2" x2="551.3" y2="571.7" stroke="#111" stroke-width="1.25"/><line x1="478.9" y1="482.5" x2="551.3" y2="571.8" stroke="#111" stroke-width="1.25"/><line x1="478.9" y1="483.8" x2="551.3" y2="564.4" stroke="#111" stroke-width="1.25"/><line x1="478.9" y1="485.2" x2="551.3" y2="569.1" stroke="#111" stroke-width="1.25"/><line x1="478.9" y1="486.5" x2="551.3" y2="569" stroke="#111" stroke-width="1.25"/><line x1="478.9" y1="487.8" x2="551.3" y2="561.6" stroke="#111" stroke-width="1.25"/><line x1="478.9" y1="489.2" x2="551.3" y2="566.1" stroke="#111" stroke-width="1.25"/><line x1="478.9" y1="490.5" x2="551.3" y2="562.2" stroke="#111" stroke-width="1.25"/><line x1="478.9" y1="491.9" x2="551.3" y2="565.3" stroke="#111" stroke-width="1.25"/><line x1="478.9" y1="493.2" x2="551.3" y2="563.2" stroke="#111" stroke-width="1.25"/><line x1="478.9" y1="494.5" x2="551.3" y2="567.9" stroke="#111" stroke-width="1.25"/><line x1="478.9" y1="495.9" x2="551.3" y2="562.5" stroke="#111" stroke-width="1.25"/><line x1="478.9" y1="497.2" x2="551.3" y2="559.5" stroke="#111" stroke-width="1.25"/><line x1="478.9" y1="498.5" x2="551.3" y2="562.8" stroke="#111" stroke-width="1.25"/><line x1="478.9" y1="499.9" x2="551.3" y2="560" stroke="#111" stroke-width="1.25"/><line x1="478.9" y1="501.2" x2="551.3" y2="560.4" stroke="#111" stroke-width="1.25"/><line x1="478.9" y1="502.6" x2="551.3" y2="567" stroke="#111" stroke-width="1.25"/><line x1="478.9" y1="503.9" x2="551.3" y2="558.5" stroke="#111" stroke-width="1.25"/><line x1="478.9" y1="505.2" x2="551.3" y2="560.1" stroke="#111" stroke-width="1.25"/><line x1="478.9" y1="506.6" x2="551.3" y2="563.2" stroke="#111" stroke-width="1.25"/><line x1="478.9" y1="507.9" x2="551.3" y2="566.2" stroke="#111" stroke-width="1.25"/><line x1="478.9" y1="509.2" x2="551.3" y2="555.4" stroke="#111" stroke-width="1.25"/><line x1="478.9" y1="510.6" x2="551.3" y2="560" stroke="#111" stroke-width="1.25"/><line x1="478.9" y1="511.9" x2="551.3" y2="556.4" stroke="#111" stroke-width="1.25"/><line x1="478.9" y1="513.2" x2="551.3" y2="553.9" stroke="#111" stroke-width="1.25"/><line x1="478.9" y1="514.6" x2="551.3" y2="555.6" stroke="#111" stroke-width="1.25"/><line x1="478.9" y1="515.9" x2="551.3" y2="552.3" stroke="#111" stroke-width="1.25"/><line x1="478.9" y1="517.3" x2="551.3" y2="559.2" stroke="#111" stroke-width="1.25"/><line x1="478.9" y1="518.6" x2="551.3" y2="553.1" stroke="#111" stroke-width="1.25"/><line x1="478.9" y1="519.9" x2="551.3" y2="557.7" stroke="#111" stroke-width="1.25"/><line x1="478.9" y1="521.3" x2="551.3" y2="550.2" stroke="#111" stroke-width="1.25"/><line x1="478.9" y1="522.6" x2="551.3" y2="550.6" stroke="#111" stroke-width="1.25"/><line x1="478.9" y1="523.9" x2="551.3" y2="561.8" stroke="#111" stroke-width="1.25"/><line x1="478.9" y1="525.3" x2="551.3" y2="560.9" stroke="#111" stroke-width="1.25"/><line x1="478.9" y1="526.6" x2="551.3" y2="559.4" stroke="#111" stroke-width="1.25"/><line x1="478.9" y1="528" x2="551.3" y2="547.4" stroke="#111" stroke-width="1.25"/><line x1="478.9" y1="529.3" x2="551.3" y2="555.3" stroke="#111" stroke-width="1.25"/><line x1="478.9" y1="530.6" x2="551.3" y2="551.8" stroke="#111" stroke-width="1.25"/><line x1="478.9" y1="532" x2="551.3" y2="556.7" stroke="#111" stroke-width="1.25"/><line x1="478.9" y1="533.3" x2="551.3" y2="553" stroke="#111" stroke-width="1.25"/><line x1="478.9" y1="534.6" x2="551.3" y2="554.6" stroke="#111" stroke-width="1.25"/><line x1="478.9" y1="536" x2="551.3" y2="554.8" stroke="#111" stroke-width="1.25"/><line x1="478.9" y1="537.3" x2="551.3" y2="550.5" stroke="#111" stroke-width="1.25"/><line x1="478.9" y1="538.6" x2="551.3" y2="550.1" stroke="#111" stroke-width="1.25"/><line x1="478.9" y1="540" x2="551.3" y2="544.1" stroke="#111" stroke-width="1.25"/><line x1="478.9" y1="541.3" x2="551.3" y2="547.6" stroke="#111" stroke-width="1.25"/><line x1="478.9" y1="542.7" x2="551.3" y2="543.9" stroke="#111" stroke-width="1.25"/><line x1="478.9" y1="551.9" x2="551.3" y2="555.8" stroke="#111" stroke-width="1.25"/><line x1="478.9" y1="561" x2="551.3" y2="548.6" stroke="#111" stroke-width="1.25"/><line x1="478.9" y1="566" x2="551.3" y2="553.4" stroke="#111" stroke-width="1.25"/><line x1="478.9" y1="537.9" x2="551.3" y2="572.4" stroke="#111" stroke-width="1.25"/><line x1="478.9" y1="540.3" x2="551.3" y2="571.2" stroke="#111" stroke-width="1.25"/><line x1="478.9" y1="534.3" x2="551.3" y2="573" stroke="#111" stroke-width="1.25"/><line x1="478.9" y1="526" x2="551.3" y2="545" stroke="#111" stroke-width="1.25"/><line x1="478.9" y1="520.1" x2="551.3" y2="546.2" stroke="#111" stroke-width="1.25"/><line x1="478.9" y1="528.4" x2="551.3" y2="547.4" stroke="#111" stroke-width="1.25"/><line x1="478.9" y1="530.8" x2="551.3" y2="543.9" stroke="#111" stroke-width="1.25"/><line x1="478.9" y1="523.6" x2="551.3" y2="549.8" stroke="#111" stroke-width="1.25"/>
<path d="M63.6 107.3a2.1 2.1 0 1 0 4.2 0a2.1 2.1 0 1 0 -4.2 0M53.5 128.9a2.1 2.1 0 1 0 4.2 0a2.1 2.1 0 1 0 -4.2 0M57.7 131.6a2.1 2.1 0 1 0 4.2 0a2.1 2.1 0 1 0 -4.2 0M61.4 133a2.1 2.1 0 1 0 4.2 0a2.1 2.1 0 1 0 -4.2 0M65.6 127.2a2.1 2.1 0 1 0 4.2 0a2.1 2.1 0 1 0 -4.2 0M65.2 132a2.1 2.1 0 1 0 4.2 0a2.1 2.1 0 1 0 -4.2 0M69.4 130.3a2.1 2.1 0 1 0 4.2 0a2.1 2.1 0 1 0 -4.2 0M73.6 128.9a2.1 2.1 0 1 0 4.2 0a2.1 2.1 0 1 0 -4.2 0M59.4 140.3a2.1 2.1 0 1 0 4.2 0a2.1 2.1 0 1 0 -4.2 0M63.9 140a2.1 2.1 0 1 0 4.2 0a2.1 2.1 0 1 0 -4.2 0M67.8 139a2.1 2.1 0 1 0 4.2 0a2.1 2.1 0 1 0 -4.2 0M69.8 145a2.1 2.1 0 1 0 4.2 0a2.1 2.1 0 1 0 -4.2 0M65.6 147.7a2.1 2.1 0 1 0 4.2 0a2.1 2.1 0 1 0 -4.2 0M57.7 148.4a2.1 2.1 0 1 0 4.2 0a2.1 2.1 0 1 0 -4.2 0M61.9 150.7a2.1 2.1 0 1 0 4.2 0a2.1 2.1 0 1 0 -4.2 0M61.4 162.5a2.1 2.1 0 1 0 4.2 0a2.1 2.1 0 1 0 -4.2 0M65.6 162.5a2.1 2.1 0 1 0 4.2 0a2.1 2.1 0 1 0 -4.2 0M248.8 154.7a2.1 2.1 0 1 0 4.2 0a2.1 2.1 0 1 0 -4.2 0M252.4 158.8a2.1 2.1 0 1 0 4.2 0a2.1 2.1 0 1 0 -4.2 0M245.8 164a2.1 2.1 0 1 0 4.2 0a2.1 2.1 0 1 0 -4.2 0M245.8 168.6a2.1 2.1 0 1 0 4.2 0a2.1 2.1 0 1 0 -4.2 0M242 171.9a2.1 2.1 0 1 0 4.2 0a2.1 2.1 0 1 0 -4.2 0M245.8 175.7a2.1 2.1 0 1 0 4.2 0a2.1 2.1 0 1 0 -4.2 0M252.6 167.5a2.1 2.1 0 1 0 4.2 0a2.1 2.1 0 1 0 -4.2 0M255.9 167.5a2.1 2.1 0 1 0 4.2 0a2.1 2.1 0 1 0 -4.2 0M259.2 167.5a2.1 2.1 0 1 0 4.2 0a2.1 2.1 0 1 0 -4.2 0M249.4 173.3a2.1 2.1 0 1 0 4.2 0a2.1 2.1 0 1 0 -4.2 0M252.1 173.3a2.1 2.1 0 1 0 4.2 0a2.1 2.1 0 1 0 -4.2 0M255.3 173.6a2.1 2.1 0 1 0 4.2 0a2.1 2.1 0 1 0 -4.2 0M258.6 173.6a2.1 2.1 0 1 0 4.2 0a2.1 2.1 0 1 0 -4.2 0M262.4 173.3a2.1 2.1 0 1 0 4.2 0a2.1 2.1 0 1 0 -4.2 0M248.8 179.5a2.1 2.1 0 1 0 4.2 0a2.1 2.1 0 1 0 -4.2 0M252.1 179.2a2.1 2.1 0 1 0 4.2 0a2.1 2.1 0 1 0 -4.2 0M255.3 179a2.1 2.1 0 1 0 4.2 0a2.1 2.1 0 1 0 -4.2 0M433.7 124a2.1 2.1 0 1 0 4.2 0a2.1 2.1 0 1 0 -4.2 0M430.3 134.6a2.1 2.1 0 1 0 4.2 0a2.1 2.1 0 1 0 -4.2 0M436.9 133.3a2.1 2.1 0 1 0 4.2 0a2.1 2.1 0 1 0 -4.2 0M443.6 131.7a2.1 2.1 0 1 0 4.2 0a2.1 2.1 0 1 0 -4.2 0M423.6 138.9a2.1 2.1 0 1 0 4.2 0a2.1 2.1 0 1 0 -4.2 0M430.3 140.1a2.1 2.1 0 1 0 4.2 0a2.1 2.1 0 1 0 -4.2 0M443.6 136.8a2.1 2.1 0 1 0 4.2 0a2.1 2.1 0 1 0 -4.2 0M430.3 145.7a2.1 2.1 0 1 0 4.2 0a2.1 2.1 0 1 0 -4.2 0M436.9 147.3a2.1 2.1 0 1 0 4.2 0a2.1 2.1 0 1 0 -4.2 0M443.6 148.1a2.1 2.1 0 1 0 4.2 0a2.1 2.1 0 1 0 -4.2 0M423.6 151.3a2.1 2.1 0 1 0 4.2 0a2.1 2.1 0 1 0 -4.2 0M430.3 150.5a2.1 2.1 0 1 0 4.2 0a2.1 2.1 0 1 0 -4.2 0M436.9 151.9a2.1 2.1 0 1 0 4.2 0a2.1 2.1 0 1 0 -4.2 0M423.6 163.9a2.1 2.1 0 1 0 4.2 0a2.1 2.1 0 1 0 -4.2 0M436.9 165.2a2.1 2.1 0 1 0 4.2 0a2.1 2.1 0 1 0 -4.2 0M443.6 163.9a2.1 2.1 0 1 0 4.2 0a2.1 2.1 0 1 0 -4.2 0M430.3 168.7a2.1 2.1 0 1 0 4.2 0a2.1 2.1 0 1 0 -4.2 0M609.6 126.9a2.1 2.1 0 1 0 4.2 0a2.1 2.1 0 1 0 -4.2 0M609.6 142a2.1 2.1 0 1 0 4.2 0a2.1 2.1 0 1 0 -4.2 0M609.6 152.1a2.1 2.1 0 1 0 4.2 0a2.1 2.1 0 1 0 -4.2 0M612 172.1a2.1 2.1 0 1 0 4.2 0a2.1 2.1 0 1 0 -4.2 0M609.7 174a2.1 2.1 0 1 0 4.2 0a2.1 2.1 0 1 0 -4.2 0M604.6 176.8a2.1 2.1 0 1 0 4.2 0a2.1 2.1 0 1 0 -4.2 0M619 175.9a2.1 2.1 0 1 0 4.2 0a2.1 2.1 0 1 0 -4.2 0M616.7 178.2a2.1 2.1 0 1 0 4.2 0a2.1 2.1 0 1 0 -4.2 0M599.4 181.9a2.1 2.1 0 1 0 4.2 0a2.1 2.1 0 1 0 -4.2 0M602.2 181a2.1 2.1 0 1 0 4.2 0a2.1 2.1 0 1 0 -4.2 0M605 181a2.1 2.1 0 1 0 4.2 0a2.1 2.1 0 1 0 -4.2 0M607.8 181.5a2.1 2.1 0 1 0 4.2 0a2.1 2.1 0 1 0 -4.2 0M611.6 181.9a2.1 2.1 0 1 0 4.2 0a2.1 2.1 0 1 0 -4.2 0M614.4 181.5a2.1 2.1 0 1 0 4.2 0a2.1 2.1 0 1 0 -4.2 0M617.6 181a2.1 2.1 0 1 0 4.2 0a2.1 2.1 0 1 0 -4.2 0M620 182.4a2.1 2.1 0 1 0 4.2 0a2.1 2.1 0 1 0 -4.2 0M606.9 182.9a2.1 2.1 0 1 0 4.2 0a2.1 2.1 0 1 0 -4.2 0M615.8 182.9a2.1 2.1 0 1 0 4.2 0a2.1 2.1 0 1 0 -4.2 0M717.7 171.7a2.1 2.1 0 1 0 4.2 0a2.1 2.1 0 1 0 -4.2 0M716.2 173.8a2.1 2.1 0 1 0 4.2 0a2.1 2.1 0 1 0 -4.2 0M719 173.7a2.1 2.1 0 1 0 4.2 0a2.1 2.1 0 1 0 -4.2 0M715 176.1a2.1 2.1 0 1 0 4.2 0a2.1 2.1 0 1 0 -4.2 0M717.6 176.3a2.1 2.1 0 1 0 4.2 0a2.1 2.1 0 1 0 -4.2 0M719.8 175.9a2.1 2.1 0 1 0 4.2 0a2.1 2.1 0 1 0 -4.2 0M712.3 177.9a2.1 2.1 0 1 0 4.2 0a2.1 2.1 0 1 0 -4.2 0M714.7 177.8a2.1 2.1 0 1 0 4.2 0a2.1 2.1 0 1 0 -4.2 0M717.6 178.2a2.1 2.1 0 1 0 4.2 0a2.1 2.1 0 1 0 -4.2 0M720.2 177.8a2.1 2.1 0 1 0 4.2 0a2.1 2.1 0 1 0 -4.2 0M722.9 178a2.1 2.1 0 1 0 4.2 0a2.1 2.1 0 1 0 -4.2 0M708.1 180a2.1 2.1 0 1 0 4.2 0a2.1 2.1 0 1 0 -4.2 0M710.9 179.7a2.1 2.1 0 1 0 4.2 0a2.1 2.1 0 1 0 -4.2 0M713.5 179.9a2.1 2.1 0 1 0 4.2 0a2.1 2.1 0 1 0 -4.2 0M716.1 180.3a2.1 2.1 0 1 0 4.2 0a2.1 2.1 0 1 0 -4.2 0M718.8 179.9a2.1 2.1 0 1 0 4.2 0a2.1 2.1 0 1 0 -4.2 0M721.5 180.3a2.1 2.1 0 1 0 4.2 0a2.1 2.1 0 1 0 -4.2 0M723.9 180.3a2.1 2.1 0 1 0 4.2 0a2.1 2.1 0 1 0 -4.2 0M726.2 179.8a2.1 2.1 0 1 0 4.2 0a2.1 2.1 0 1 0 -4.2 0M706.8 182.3a2.1 2.1 0 1 0 4.2 0a2.1 2.1 0 1 0 -4.2 0M709.7 182.1a2.1 2.1 0 1 0 4.2 0a2.1 2.1 0 1 0 -4.2 0M712.1 182a2.1 2.1 0 1 0 4.2 0a2.1 2.1 0 1 0 -4.2 0M715 181.8a2.1 2.1 0 1 0 4.2 0a2.1 2.1 0 1 0 -4.2 0M717.2 181.7a2.1 2.1 0 1 0 4.2 0a2.1 2.1 0 1 0 -4.2 0M720 182.2a2.1 2.1 0 1 0 4.2 0a2.1 2.1 0 1 0 -4.2 0M722.6 181.9a2.1 2.1 0 1 0 4.2 0a2.1 2.1 0 1 0 -4.2 0M725.2 181.8a2.1 2.1 0 1 0 4.2 0a2.1 2.1 0 1 0 -4.2 0M728.1 181.9a2.1 2.1 0 1 0 4.2 0a2.1 2.1 0 1 0 -4.2 0M706.8 183.9a2.1 2.1 0 1 0 4.2 0a2.1 2.1 0 1 0 -4.2 0M709.8 183.9a2.1 2.1 0 1 0 4.2 0a2.1 2.1 0 1 0 -4.2 0M712.4 183.9a2.1 2.1 0 1 0 4.2 0a2.1 2.1 0 1 0 -4.2 0M714.8 183.7a2.1 2.1 0 1 0 4.2 0a2.1 2.1 0 1 0 -4.2 0M717.6 184.2a2.1 2.1 0 1 0 4.2 0a2.1 2.1 0 1 0 -4.2 0M720 183.8a2.1 2.1 0 1 0 4.2 0a2.1 2.1 0 1 0 -4.2 0M722.6 183.9a2.1 2.1 0 1 0 4.2 0a2.1 2.1 0 1 0 -4.2 0M725.4 184.3a2.1 2.1 0 1 0 4.2 0a2.1 2.1 0 1 0 -4.2 0M727.9 183.9a2.1 2.1 0 1 0 4.2 0a2.1 2.1 0 1 0 -4.2 0M63.9 295.7a2.1 2.1 0 1 0 4.2 0a2.1 2.1 0 1 0 -4.2 0M63.9 307.2a2.1 2.1 0 1 0 4.2 0a2.1 2.1 0 1 0 -4.2 0M63.9 320.7a2.1 2.1 0 1 0 4.2 0a2.1 2.1 0 1 0 -4.2 0M63.9 326.9a2.1 2.1 0 1 0 4.2 0a2.1 2.1 0 1 0 -4.2 0M63.9 331.4a2.1 2.1 0 1 0 4.2 0a2.1 2.1 0 1 0 -4.2 0M53.8 341a2.1 2.1 0 1 0 4.2 0a2.1 2.1 0 1 0 -4.2 0M60.6 337.9a2.1 2.1 0 1 0 4.2 0a2.1 2.1 0 1 0 -4.2 0M68.7 338.5a2.1 2.1 0 1 0 4.2 0a2.1 2.1 0 1 0 -4.2 0M74.1 337.9a2.1 2.1 0 1 0 4.2 0a2.1 2.1 0 1 0 -4.2 0M60.6 344.3a2.1 2.1 0 1 0 4.2 0a2.1 2.1 0 1 0 -4.2 0M66.8 345.2a2.1 2.1 0 1 0 4.2 0a2.1 2.1 0 1 0 -4.2 0M74.1 342.7a2.1 2.1 0 1 0 4.2 0a2.1 2.1 0 1 0 -4.2 0M60.6 354.5a2.1 2.1 0 1 0 4.2 0a2.1 2.1 0 1 0 -4.2 0M67.2 357.4a2.1 2.1 0 1 0 4.2 0a2.1 2.1 0 1 0 -4.2 0M63.9 365.1a2.1 2.1 0 1 0 4.2 0a2.1 2.1 0 1 0 -4.2 0M60.6 372.3a2.1 2.1 0 1 0 4.2 0a2.1 2.1 0 1 0 -4.2 0M67.2 370.7a2.1 2.1 0 1 0 4.2 0a2.1 2.1 0 1 0 -4.2 0M255.4 330.7a2.1 2.1 0 1 0 4.2 0a2.1 2.1 0 1 0 -4.2 0M241.9 334.5a2.1 2.1 0 1 0 4.2 0a2.1 2.1 0 1 0 -4.2 0M248.6 334.8a2.1 2.1 0 1 0 4.2 0a2.1 2.1 0 1 0 -4.2 0M255.4 338.2a2.1 2.1 0 1 0 4.2 0a2.1 2.1 0 1 0 -4.2 0M248.6 341.8a2.1 2.1 0 1 0 4.2 0a2.1 2.1 0 1 0 -4.2 0M241.9 347.8a2.1 2.1 0 1 0 4.2 0a2.1 2.1 0 1 0 -4.2 0M262.1 348.5a2.1 2.1 0 1 0 4.2 0a2.1 2.1 0 1 0 -4.2 0M248.6 353a2.1 2.1 0 1 0 4.2 0a2.1 2.1 0 1 0 -4.2 0M255.4 352a2.1 2.1 0 1 0 4.2 0a2.1 2.1 0 1 0 -4.2 0M248.6 358.2a2.1 2.1 0 1 0 4.2 0a2.1 2.1 0 1 0 -4.2 0M255.4 357.7a2.1 2.1 0 1 0 4.2 0a2.1 2.1 0 1 0 -4.2 0M241.9 361.6a2.1 2.1 0 1 0 4.2 0a2.1 2.1 0 1 0 -4.2 0M248.6 365.6a2.1 2.1 0 1 0 4.2 0a2.1 2.1 0 1 0 -4.2 0M255.4 363.5a2.1 2.1 0 1 0 4.2 0a2.1 2.1 0 1 0 -4.2 0M262.1 363.9a2.1 2.1 0 1 0 4.2 0a2.1 2.1 0 1 0 -4.2 0M255.4 368.2a2.1 2.1 0 1 0 4.2 0a2.1 2.1 0 1 0 -4.2 0M252.1 372.7a2.1 2.1 0 1 0 4.2 0a2.1 2.1 0 1 0 -4.2 0M441.2 351.9a2.1 2.1 0 1 0 4.2 0a2.1 2.1 0 1 0 -4.2 0M436.2 353.6a2.1 2.1 0 1 0 4.2 0a2.1 2.1 0 1 0 -4.2 0M430.8 355.7a2.1 2.1 0 1 0 4.2 0a2.1 2.1 0 1 0 -4.2 0M441.2 357.7a2.1 2.1 0 1 0 4.2 0a2.1 2.1 0 1 0 -4.2 0M436.2 360a2.1 2.1 0 1 0 4.2 0a2.1 2.1 0 1 0 -4.2 0M445.9 367.1a2.1 2.1 0 1 0 4.2 0a2.1 2.1 0 1 0 -4.2 0M441.2 367.5a2.1 2.1 0 1 0 4.2 0a2.1 2.1 0 1 0 -4.2 0M436.2 368a2.1 2.1 0 1 0 4.2 0a2.1 2.1 0 1 0 -4.2 0M430.8 369.8a2.1 2.1 0 1 0 4.2 0a2.1 2.1 0 1 0 -4.2 0M426 371.8a2.1 2.1 0 1 0 4.2 0a2.1 2.1 0 1 0 -4.2 0M436.2 372.8a2.1 2.1 0 1 0 4.2 0a2.1 2.1 0 1 0 -4.2 0M430.8 375.1a2.1 2.1 0 1 0 4.2 0a2.1 2.1 0 1 0 -4.2 0M445.9 374.5a2.1 2.1 0 1 0 4.2 0a2.1 2.1 0 1 0 -4.2 0M426 377.1a2.1 2.1 0 1 0 4.2 0a2.1 2.1 0 1 0 -4.2 0M436.2 377.1a2.1 2.1 0 1 0 4.2 0a2.1 2.1 0 1 0 -4.2 0M441.2 376.1a2.1 2.1 0 1 0 4.2 0a2.1 2.1 0 1 0 -4.2 0M445.9 378.8a2.1 2.1 0 1 0 4.2 0a2.1 2.1 0 1 0 -4.2 0M614.6 311.7a2.1 2.1 0 1 0 4.2 0a2.1 2.1 0 1 0 -4.2 0M610.6 314.7a2.1 2.1 0 1 0 4.2 0a2.1 2.1 0 1 0 -4.2 0M612.4 334a2.1 2.1 0 1 0 4.2 0a2.1 2.1 0 1 0 -4.2 0M614.6 345.1a2.1 2.1 0 1 0 4.2 0a2.1 2.1 0 1 0 -4.2 0M610.6 347.3a2.1 2.1 0 1 0 4.2 0a2.1 2.1 0 1 0 -4.2 0M614.6 351a2.1 2.1 0 1 0 4.2 0a2.1 2.1 0 1 0 -4.2 0M610.6 356.1a2.1 2.1 0 1 0 4.2 0a2.1 2.1 0 1 0 -4.2 0M614.6 359.3a2.1 2.1 0 1 0 4.2 0a2.1 2.1 0 1 0 -4.2 0M610.6 363a2.1 2.1 0 1 0 4.2 0a2.1 2.1 0 1 0 -4.2 0M614.6 367.6a2.1 2.1 0 1 0 4.2 0a2.1 2.1 0 1 0 -4.2 0M602.3 372.2a2.1 2.1 0 1 0 4.2 0a2.1 2.1 0 1 0 -4.2 0M606.5 370.3a2.1 2.1 0 1 0 4.2 0a2.1 2.1 0 1 0 -4.2 0M610.6 371.3a2.1 2.1 0 1 0 4.2 0a2.1 2.1 0 1 0 -4.2 0M614.6 373.7a2.1 2.1 0 1 0 4.2 0a2.1 2.1 0 1 0 -4.2 0M618.5 373.7a2.1 2.1 0 1 0 4.2 0a2.1 2.1 0 1 0 -4.2 0M622.5 371.3a2.1 2.1 0 1 0 4.2 0a2.1 2.1 0 1 0 -4.2 0M606.5 376.2a2.1 2.1 0 1 0 4.2 0a2.1 2.1 0 1 0 -4.2 0M255.4 483.5a2.1 2.1 0 1 0 4.2 0a2.1 2.1 0 1 0 -4.2 0M328.4 571.9a2.1 2.1 0 1 0 4.2 0a2.1 2.1 0 1 0 -4.2 0M255.4 486.2a2.1 2.1 0 1 0 4.2 0a2.1 2.1 0 1 0 -4.2 0M328.4 573a2.1 2.1 0 1 0 4.2 0a2.1 2.1 0 1 0 -4.2 0M255.4 487a2.1 2.1 0 1 0 4.2 0a2.1 2.1 0 1 0 -4.2 0M328.4 570.7a2.1 2.1 0 1 0 4.2 0a2.1 2.1 0 1 0 -4.2 0M255.4 495.5a2.1 2.1 0 1 0 4.2 0a2.1 2.1 0 1 0 -4.2 0M328.4 573.6a2.1 2.1 0 1 0 4.2 0a2.1 2.1 0 1 0 -4.2 0M255.4 503.1a2.1 2.1 0 1 0 4.2 0a2.1 2.1 0 1 0 -4.2 0M328.4 572.5a2.1 2.1 0 1 0 4.2 0a2.1 2.1 0 1 0 -4.2 0M255.4 510.1a2.1 2.1 0 1 0 4.2 0a2.1 2.1 0 1 0 -4.2 0M328.4 569.6a2.1 2.1 0 1 0 4.2 0a2.1 2.1 0 1 0 -4.2 0M255.4 512.7a2.1 2.1 0 1 0 4.2 0a2.1 2.1 0 1 0 -4.2 0M328.4 568.5a2.1 2.1 0 1 0 4.2 0a2.1 2.1 0 1 0 -4.2 0M255.4 513.8a2.1 2.1 0 1 0 4.2 0a2.1 2.1 0 1 0 -4.2 0M328.4 571.9a2.1 2.1 0 1 0 4.2 0a2.1 2.1 0 1 0 -4.2 0M255.4 514.9a2.1 2.1 0 1 0 4.2 0a2.1 2.1 0 1 0 -4.2 0M328.4 566.2a2.1 2.1 0 1 0 4.2 0a2.1 2.1 0 1 0 -4.2 0M255.4 516.1a2.1 2.1 0 1 0 4.2 0a2.1 2.1 0 1 0 -4.2 0M328.4 570.7a2.1 2.1 0 1 0 4.2 0a2.1 2.1 0 1 0 -4.2 0M255.4 517.2a2.1 2.1 0 1 0 4.2 0a2.1 2.1 0 1 0 -4.2 0M328.4 563.9a2.1 2.1 0 1 0 4.2 0a2.1 2.1 0 1 0 -4.2 0M255.4 518.3a2.1 2.1 0 1 0 4.2 0a2.1 2.1 0 1 0 -4.2 0M328.4 567.3a2.1 2.1 0 1 0 4.2 0a2.1 2.1 0 1 0 -4.2 0M255.4 519.5a2.1 2.1 0 1 0 4.2 0a2.1 2.1 0 1 0 -4.2 0M328.4 573a2.1 2.1 0 1 0 4.2 0a2.1 2.1 0 1 0 -4.2 0M255.4 520.6a2.1 2.1 0 1 0 4.2 0a2.1 2.1 0 1 0 -4.2 0M328.4 565a2.1 2.1 0 1 0 4.2 0a2.1 2.1 0 1 0 -4.2 0M255.4 521.8a2.1 2.1 0 1 0 4.2 0a2.1 2.1 0 1 0 -4.2 0M328.4 561.6a2.1 2.1 0 1 0 4.2 0a2.1 2.1 0 1 0 -4.2 0M255.4 522.9a2.1 2.1 0 1 0 4.2 0a2.1 2.1 0 1 0 -4.2 0M328.4 569.6a2.1 2.1 0 1 0 4.2 0a2.1 2.1 0 1 0 -4.2 0M255.4 524a2.1 2.1 0 1 0 4.2 0a2.1 2.1 0 1 0 -4.2 0M328.4 571.9a2.1 2.1 0 1 0 4.2 0a2.1 2.1 0 1 0 -4.2 0M255.4 525.2a2.1 2.1 0 1 0 4.2 0a2.1 2.1 0 1 0 -4.2 0M328.4 562.8a2.1 2.1 0 1 0 4.2 0a2.1 2.1 0 1 0 -4.2 0M255.4 526.3a2.1 2.1 0 1 0 4.2 0a2.1 2.1 0 1 0 -4.2 0M328.4 566.2a2.1 2.1 0 1 0 4.2 0a2.1 2.1 0 1 0 -4.2 0M255.4 527.5a2.1 2.1 0 1 0 4.2 0a2.1 2.1 0 1 0 -4.2 0M328.4 568.5a2.1 2.1 0 1 0 4.2 0a2.1 2.1 0 1 0 -4.2 0M255.4 528.6a2.1 2.1 0 1 0 4.2 0a2.1 2.1 0 1 0 -4.2 0M328.4 559.4a2.1 2.1 0 1 0 4.2 0a2.1 2.1 0 1 0 -4.2 0M255.4 529.7a2.1 2.1 0 1 0 4.2 0a2.1 2.1 0 1 0 -4.2 0M328.4 570.7a2.1 2.1 0 1 0 4.2 0a2.1 2.1 0 1 0 -4.2 0M255.4 530.9a2.1 2.1 0 1 0 4.2 0a2.1 2.1 0 1 0 -4.2 0M328.4 565a2.1 2.1 0 1 0 4.2 0a2.1 2.1 0 1 0 -4.2 0M255.4 532a2.1 2.1 0 1 0 4.2 0a2.1 2.1 0 1 0 -4.2 0M328.4 573a2.1 2.1 0 1 0 4.2 0a2.1 2.1 0 1 0 -4.2 0M255.4 533.2a2.1 2.1 0 1 0 4.2 0a2.1 2.1 0 1 0 -4.2 0M328.4 560.5a2.1 2.1 0 1 0 4.2 0a2.1 2.1 0 1 0 -4.2 0M255.4 534.3a2.1 2.1 0 1 0 4.2 0a2.1 2.1 0 1 0 -4.2 0M328.4 567.3a2.1 2.1 0 1 0 4.2 0a2.1 2.1 0 1 0 -4.2 0M255.4 535.4a2.1 2.1 0 1 0 4.2 0a2.1 2.1 0 1 0 -4.2 0M328.4 557.1a2.1 2.1 0 1 0 4.2 0a2.1 2.1 0 1 0 -4.2 0M255.4 536.6a2.1 2.1 0 1 0 4.2 0a2.1 2.1 0 1 0 -4.2 0M328.4 569.6a2.1 2.1 0 1 0 4.2 0a2.1 2.1 0 1 0 -4.2 0M255.4 537.7a2.1 2.1 0 1 0 4.2 0a2.1 2.1 0 1 0 -4.2 0M328.4 563.9a2.1 2.1 0 1 0 4.2 0a2.1 2.1 0 1 0 -4.2 0M255.4 538.9a2.1 2.1 0 1 0 4.2 0a2.1 2.1 0 1 0 -4.2 0M328.4 554.8a2.1 2.1 0 1 0 4.2 0a2.1 2.1 0 1 0 -4.2 0M255.4 540a2.1 2.1 0 1 0 4.2 0a2.1 2.1 0 1 0 -4.2 0M328.4 571.9a2.1 2.1 0 1 0 4.2 0a2.1 2.1 0 1 0 -4.2 0M255.4 541.1a2.1 2.1 0 1 0 4.2 0a2.1 2.1 0 1 0 -4.2 0M328.4 561.6a2.1 2.1 0 1 0 4.2 0a2.1 2.1 0 1 0 -4.2 0M255.4 541.7a2.1 2.1 0 1 0 4.2 0a2.1 2.1 0 1 0 -4.2 0M328.4 568.5a2.1 2.1 0 1 0 4.2 0a2.1 2.1 0 1 0 -4.2 0M255.4 542.3a2.1 2.1 0 1 0 4.2 0a2.1 2.1 0 1 0 -4.2 0M328.4 558.2a2.1 2.1 0 1 0 4.2 0a2.1 2.1 0 1 0 -4.2 0M255.4 543.4a2.1 2.1 0 1 0 4.2 0a2.1 2.1 0 1 0 -4.2 0M328.4 566.2a2.1 2.1 0 1 0 4.2 0a2.1 2.1 0 1 0 -4.2 0M255.4 543.7a2.1 2.1 0 1 0 4.2 0a2.1 2.1 0 1 0 -4.2 0M328.4 552.5a2.1 2.1 0 1 0 4.2 0a2.1 2.1 0 1 0 -4.2 0M255.4 540a2.1 2.1 0 1 0 4.2 0a2.1 2.1 0 1 0 -4.2 0M328.4 525a2.1 2.1 0 1 0 4.2 0a2.1 2.1 0 1 0 -4.2 0M255.4 537.7a2.1 2.1 0 1 0 4.2 0a2.1 2.1 0 1 0 -4.2 0M328.4 525.8a2.1 2.1 0 1 0 4.2 0a2.1 2.1 0 1 0 -4.2 0M255.4 542.5a2.1 2.1 0 1 0 4.2 0a2.1 2.1 0 1 0 -4.2 0M328.4 531.8a2.1 2.1 0 1 0 4.2 0a2.1 2.1 0 1 0 -4.2 0M255.4 541.1a2.1 2.1 0 1 0 4.2 0a2.1 2.1 0 1 0 -4.2 0M328.4 541.1a2.1 2.1 0 1 0 4.2 0a2.1 2.1 0 1 0 -4.2 0M255.4 540a2.1 2.1 0 1 0 4.2 0a2.1 2.1 0 1 0 -4.2 0M328.4 550.8a2.1 2.1 0 1 0 4.2 0a2.1 2.1 0 1 0 -4.2 0M255.4 549.6a2.1 2.1 0 1 0 4.2 0a2.1 2.1 0 1 0 -4.2 0M328.4 551.4a2.1 2.1 0 1 0 4.2 0a2.1 2.1 0 1 0 -4.2 0M255.4 551.4a2.1 2.1 0 1 0 4.2 0a2.1 2.1 0 1 0 -4.2 0M328.4 553.7a2.1 2.1 0 1 0 4.2 0a2.1 2.1 0 1 0 -4.2 0M255.4 556.3a2.1 2.1 0 1 0 4.2 0a2.1 2.1 0 1 0 -4.2 0M328.4 552.5a2.1 2.1 0 1 0 4.2 0a2.1 2.1 0 1 0 -4.2 0M255.4 524a2.1 2.1 0 1 0 4.2 0a2.1 2.1 0 1 0 -4.2 0M328.4 555.9a2.1 2.1 0 1 0 4.2 0a2.1 2.1 0 1 0 -4.2 0M255.4 529.7a2.1 2.1 0 1 0 4.2 0a2.1 2.1 0 1 0 -4.2 0M328.4 574.2a2.1 2.1 0 1 0 4.2 0a2.1 2.1 0 1 0 -4.2 0M255.4 534.3a2.1 2.1 0 1 0 4.2 0a2.1 2.1 0 1 0 -4.2 0M328.4 574.7a2.1 2.1 0 1 0 4.2 0a2.1 2.1 0 1 0 -4.2 0M255.4 518.3a2.1 2.1 0 1 0 4.2 0a2.1 2.1 0 1 0 -4.2 0M328.4 560.5a2.1 2.1 0 1 0 4.2 0a2.1 2.1 0 1 0 -4.2 0M255.4 536.6a2.1 2.1 0 1 0 4.2 0a2.1 2.1 0 1 0 -4.2 0M328.4 574.2a2.1 2.1 0 1 0 4.2 0a2.1 2.1 0 1 0 -4.2 0M255.4 521.8a2.1 2.1 0 1 0 4.2 0a2.1 2.1 0 1 0 -4.2 0M328.4 568.5a2.1 2.1 0 1 0 4.2 0a2.1 2.1 0 1 0 -4.2 0M255.4 526.3a2.1 2.1 0 1 0 4.2 0a2.1 2.1 0 1 0 -4.2 0M328.4 571.9a2.1 2.1 0 1 0 4.2 0a2.1 2.1 0 1 0 -4.2 0M255.4 530.9a2.1 2.1 0 1 0 4.2 0a2.1 2.1 0 1 0 -4.2 0M328.4 569.6a2.1 2.1 0 1 0 4.2 0a2.1 2.1 0 1 0 -4.2 0M255.4 516.1a2.1 2.1 0 1 0 4.2 0a2.1 2.1 0 1 0 -4.2 0M328.4 574.2a2.1 2.1 0 1 0 4.2 0a2.1 2.1 0 1 0 -4.2 0M255.4 533.2a2.1 2.1 0 1 0 4.2 0a2.1 2.1 0 1 0 -4.2 0M328.4 565a2.1 2.1 0 1 0 4.2 0a2.1 2.1 0 1 0 -4.2 0M255.4 528.6a2.1 2.1 0 1 0 4.2 0a2.1 2.1 0 1 0 -4.2 0M328.4 562.8a2.1 2.1 0 1 0 4.2 0a2.1 2.1 0 1 0 -4.2 0M255.4 535.4a2.1 2.1 0 1 0 4.2 0a2.1 2.1 0 1 0 -4.2 0M328.4 570.7a2.1 2.1 0 1 0 4.2 0a2.1 2.1 0 1 0 -4.2 0M476.8 474.5a2.1 2.1 0 1 0 4.2 0a2.1 2.1 0 1 0 -4.2 0M549.2 571.9a2.1 2.1 0 1 0 4.2 0a2.1 2.1 0 1 0 -4.2 0M476.8 475.8a2.1 2.1 0 1 0 4.2 0a2.1 2.1 0 1 0 -4.2 0M549.2 569.3a2.1 2.1 0 1 0 4.2 0a2.1 2.1 0 1 0 -4.2 0M476.8 477.1a2.1 2.1 0 1 0 4.2 0a2.1 2.1 0 1 0 -4.2 0M549.2 570.2a2.1 2.1 0 1 0 4.2 0a2.1 2.1 0 1 0 -4.2 0M476.8 478.5a2.1 2.1 0 1 0 4.2 0a2.1 2.1 0 1 0 -4.2 0M549.2 568.1a2.1 2.1 0 1 0 4.2 0a2.1 2.1 0 1 0 -4.2 0M476.8 479.8a2.1 2.1 0 1 0 4.2 0a2.1 2.1 0 1 0 -4.2 0M549.2 567.5a2.1 2.1 0 1 0 4.2 0a2.1 2.1 0 1 0 -4.2 0M476.8 481.2a2.1 2.1 0 1 0 4.2 0a2.1 2.1 0 1 0 -4.2 0M549.2 571.7a2.1 2.1 0 1 0 4.2 0a2.1 2.1 0 1 0 -4.2 0M476.8 482.5a2.1 2.1 0 1 0 4.2 0a2.1 2.1 0 1 0 -4.2 0M549.2 571.8a2.1 2.1 0 1 0 4.2 0a2.1 2.1 0 1 0 -4.2 0M476.8 483.8a2.1 2.1 0 1 0 4.2 0a2.1 2.1 0 1 0 -4.2 0M549.2 564.4a2.1 2.1 0 1 0 4.2 0a2.1 2.1 0 1 0 -4.2 0M476.8 485.2a2.1 2.1 0 1 0 4.2 0a2.1 2.1 0 1 0 -4.2 0M549.2 569.1a2.1 2.1 0 1 0 4.2 0a2.1 2.1 0 1 0 -4.2 0M476.8 486.5a2.1 2.1 0 1 0 4.2 0a2.1 2.1 0 1 0 -4.2 0M549.2 569a2.1 2.1 0 1 0 4.2 0a2.1 2.1 0 1 0 -4.2 0M476.8 487.8a2.1 2.1 0 1 0 4.2 0a2.1 2.1 0 1 0 -4.2 0M549.2 561.6a2.1 2.1 0 1 0 4.2 0a2.1 2.1 0 1 0 -4.2 0M476.8 489.2a2.1 2.1 0 1 0 4.2 0a2.1 2.1 0 1 0 -4.2 0M549.2 566.1a2.1 2.1 0 1 0 4.2 0a2.1 2.1 0 1 0 -4.2 0M476.8 490.5a2.1 2.1 0 1 0 4.2 0a2.1 2.1 0 1 0 -4.2 0M549.2 562.2a2.1 2.1 0 1 0 4.2 0a2.1 2.1 0 1 0 -4.2 0M476.8 491.9a2.1 2.1 0 1 0 4.2 0a2.1 2.1 0 1 0 -4.2 0M549.2 565.3a2.1 2.1 0 1 0 4.2 0a2.1 2.1 0 1 0 -4.2 0M476.8 493.2a2.1 2.1 0 1 0 4.2 0a2.1 2.1 0 1 0 -4.2 0M549.2 563.2a2.1 2.1 0 1 0 4.2 0a2.1 2.1 0 1 0 -4.2 0M476.8 494.5a2.1 2.1 0 1 0 4.2 0a2.1 2.1 0 1 0 -4.2 0M549.2 567.9a2.1 2.1 0 1 0 4.2 0a2.1 2.1 0 1 0 -4.2 0M476.8 495.9a2.1 2.1 0 1 0 4.2 0a2.1 2.1 0 1 0 -4.2 0M549.2 562.5a2.1 2.1 0 1 0 4.2 0a2.1 2.1 0 1 0 -4.2 0M476.8 497.2a2.1 2.1 0 1 0 4.2 0a2.1 2.1 0 1 0 -4.2 0M549.2 559.5a2.1 2.1 0 1 0 4.2 0a2.1 2.1 0 1 0 -4.2 0M476.8 498.5a2.1 2.1 0 1 0 4.2 0a2.1 2.1 0 1 0 -4.2 0M549.2 562.8a2.1 2.1 0 1 0 4.2 0a2.1 2.1 0 1 0 -4.2 0M476.8 499.9a2.1 2.1 0 1 0 4.2 0a2.1 2.1 0 1 0 -4.2 0M549.2 560a2.1 2.1 0 1 0 4.2 0a2.1 2.1 0 1 0 -4.2 0M476.8 501.2a2.1 2.1 0 1 0 4.2 0a2.1 2.1 0 1 0 -4.2 0M549.2 560.4a2.1 2.1 0 1 0 4.2 0a2.1 2.1 0 1 0 -4.2 0M476.8 502.6a2.1 2.1 0 1 0 4.2 0a2.1 2.1 0 1 0 -4.2 0M549.2 567a2.1 2.1 0 1 0 4.2 0a2.1 2.1 0 1 0 -4.2 0M476.8 503.9a2.1 2.1 0 1 0 4.2 0a2.1 2.1 0 1 0 -4.2 0M549.2 558.5a2.1 2.1 0 1 0 4.2 0a2.1 2.1 0 1 0 -4.2 0M476.8 505.2a2.1 2.1 0 1 0 4.2 0a2.1 2.1 0 1 0 -4.2 0M549.2 560.1a2.1 2.1 0 1 0 4.2 0a2.1 2.1 0 1 0 -4.2 0M476.8 506.6a2.1 2.1 0 1 0 4.2 0a2.1 2.1 0 1 0 -4.2 0M549.2 563.2a2.1 2.1 0 1 0 4.2 0a2.1 2.1 0 1 0 -4.2 0M476.8 507.9a2.1 2.1 0 1 0 4.2 0a2.1 2.1 0 1 0 -4.2 0M549.2 566.2a2.1 2.1 0 1 0 4.2 0a2.1 2.1 0 1 0 -4.2 0M476.8 509.2a2.1 2.1 0 1 0 4.2 0a2.1 2.1 0 1 0 -4.2 0M549.2 555.4a2.1 2.1 0 1 0 4.2 0a2.1 2.1 0 1 0 -4.2 0M476.8 510.6a2.1 2.1 0 1 0 4.2 0a2.1 2.1 0 1 0 -4.2 0M549.2 560a2.1 2.1 0 1 0 4.2 0a2.1 2.1 0 1 0 -4.2 0M476.8 511.9a2.1 2.1 0 1 0 4.2 0a2.1 2.1 0 1 0 -4.2 0M549.2 556.4a2.1 2.1 0 1 0 4.2 0a2.1 2.1 0 1 0 -4.2 0M476.8 513.2a2.1 2.1 0 1 0 4.2 0a2.1 2.1 0 1 0 -4.2 0M549.2 553.9a2.1 2.1 0 1 0 4.2 0a2.1 2.1 0 1 0 -4.2 0M476.8 514.6a2.1 2.1 0 1 0 4.2 0a2.1 2.1 0 1 0 -4.2 0M549.2 555.6a2.1 2.1 0 1 0 4.2 0a2.1 2.1 0 1 0 -4.2 0M476.8 515.9a2.1 2.1 0 1 0 4.2 0a2.1 2.1 0 1 0 -4.2 0M549.2 552.3a2.1 2.1 0 1 0 4.2 0a2.1 2.1 0 1 0 -4.2 0M476.8 517.3a2.1 2.1 0 1 0 4.2 0a2.1 2.1 0 1 0 -4.2 0M549.2 559.2a2.1 2.1 0 1 0 4.2 0a2.1 2.1 0 1 0 -4.2 0M476.8 518.6a2.1 2.1 0 1 0 4.2 0a2.1 2.1 0 1 0 -4.2 0M549.2 553.1a2.1 2.1 0 1 0 4.2 0a2.1 2.1 0 1 0 -4.2 0M476.8 519.9a2.1 2.1 0 1 0 4.2 0a2.1 2.1 0 1 0 -4.2 0M549.2 557.7a2.1 2.1 0 1 0 4.2 0a2.1 2.1 0 1 0 -4.2 0M476.8 521.3a2.1 2.1 0 1 0 4.2 0a2.1 2.1 0 1 0 -4.2 0M549.2 550.2a2.1 2.1 0 1 0 4.2 0a2.1 2.1 0 1 0 -4.2 0M476.8 522.6a2.1 2.1 0 1 0 4.2 0a2.1 2.1 0 1 0 -4.2 0M549.2 550.6a2.1 2.1 0 1 0 4.2 0a2.1 2.1 0 1 0 -4.2 0M476.8 523.9a2.1 2.1 0 1 0 4.2 0a2.1 2.1 0 1 0 -4.2 0M549.2 561.8a2.1 2.1 0 1 0 4.2 0a2.1 2.1 0 1 0 -4.2 0M476.8 525.3a2.1 2.1 0 1 0 4.2 0a2.1 2.1 0 1 0 -4.2 0M549.2 560.9a2.1 2.1 0 1 0 4.2 0a2.1 2.1 0 1 0 -4.2 0M476.8 526.6a2.1 2.1 0 1 0 4.2 0a2.1 2.1 0 1 0 -4.2 0M549.2 559.4a2.1 2.1 0 1 0 4.2 0a2.1 2.1 0 1 0 -4.2 0M476.8 528a2.1 2.1 0 1 0 4.2 0a2.1 2.1 0 1 0 -4.2 0M549.2 547.4a2.1 2.1 0 1 0 4.2 0a2.1 2.1 0 1 0 -4.2 0M476.8 529.3a2.1 2.1 0 1 0 4.2 0a2.1 2.1 0 1 0 -4.2 0M549.2 555.3a2.1 2.1 0 1 0 4.2 0a2.1 2.1 0 1 0 -4.2 0M476.8 530.6a2.1 2.1 0 1 0 4.2 0a2.1 2.1 0 1 0 -4.2 0M549.2 551.8a2.1 2.1 0 1 0 4.2 0a2.1 2.1 0 1 0 -4.2 0M476.8 532a2.1 2.1 0 1 0 4.2 0a2.1 2.1 0 1 0 -4.2 0M549.2 556.7a2.1 2.1 0 1 0 4.2 0a2.1 2.1 0 1 0 -4.2 0M476.8 533.3a2.1 2.1 0 1 0 4.2 0a2.1 2.1 0 1 0 -4.2 0M549.2 553a2.1 2.1 0 1 0 4.2 0a2.1 2.1 0 1 0 -4.2 0M476.8 534.6a2.1 2.1 0 1 0 4.2 0a2.1 2.1 0 1 0 -4.2 0M549.2 554.6a2.1 2.1 0 1 0 4.2 0a2.1 2.1 0 1 0 -4.2 0M476.8 536a2.1 2.1 0 1 0 4.2 0a2.1 2.1 0 1 0 -4.2 0M549.2 554.8a2.1 2.1 0 1 0 4.2 0a2.1 2.1 0 1 0 -4.2 0M476.8 537.3a2.1 2.1 0 1 0 4.2 0a2.1 2.1 0 1 0 -4.2 0M549.2 550.5a2.1 2.1 0 1 0 4.2 0a2.1 2.1 0 1 0 -4.2 0M476.8 538.6a2.1 2.1 0 1 0 4.2 0a2.1 2.1 0 1 0 -4.2 0M549.2 550.1a2.1 2.1 0 1 0 4.2 0a2.1 2.1 0 1 0 -4.2 0M476.8 540a2.1 2.1 0 1 0 4.2 0a2.1 2.1 0 1 0 -4.2 0M549.2 544.1a2.1 2.1 0 1 0 4.2 0a2.1 2.1 0 1 0 -4.2 0M476.8 541.3a2.1 2.1 0 1 0 4.2 0a2.1 2.1 0 1 0 -4.2 0M549.2 547.6a2.1 2.1 0 1 0 4.2 0a2.1 2.1 0 1 0 -4.2 0M476.8 542.7a2.1 2.1 0 1 0 4.2 0a2.1 2.1 0 1 0 -4.2 0M549.2 543.9a2.1 2.1 0 1 0 4.2 0a2.1 2.1 0 1 0 -4.2 0M476.8 551.9a2.1 2.1 0 1 0 4.2 0a2.1 2.1 0 1 0 -4.2 0M549.2 555.8a2.1 2.1 0 1 0 4.2 0a2.1 2.1 0 1 0 -4.2 0M476.8 561a2.1 2.1 0 1 0 4.2 0a2.1 2.1 0 1 0 -4.2 0M549.2 548.6a2.1 2.1 0 1 0 4.2 0a2.1 2.1 0 1 0 -4.2 0M476.8 566a2.1 2.1 0 1 0 4.2 0a2.1 2.1 0 1 0 -4.2 0M549.2 553.4a2.1 2.1 0 1 0 4.2 0a2.1 2.1 0 1 0 -4.2 0M476.8 537.9a2.1 2.1 0 1 0 4.2 0a2.1 2.1 0 1 0 -4.2 0M549.2 572.4a2.1 2.1 0 1 0 4.2 0a2.1 2.1 0 1 0 -4.2 0M476.8 540.3a2.1 2.1 0 1 0 4.2 0a2.1 2.1 0 1 0 -4.2 0M549.2 571.2a2.1 2.1 0 1 0 4.2 0a2.1 2.1 0 1 0 -4.2 0M476.8 534.3a2.1 2.1 0 1 0 4.2 0a2.1 2.1 0 1 0 -4.2 0M549.2 573a2.1 2.1 0 1 0 4.2 0a2.1 2.1 0 1 0 -4.2 0M476.8 526a2.1 2.1 0 1 0 4.2 0a2.1 2.1 0 1 0 -4.2 0M549.2 545a2.1 2.1 0 1 0 4.2 0a2.1 2.1 0 1 0 -4.2 0M476.8 520.1a2.1 2.1 0 1 0 4.2 0a2.1 2.1 0 1 0 -4.2 0M549.2 546.2a2.1 2.1 0 1 0 4.2 0a2.1 2.1 0 1 0 -4.2 0M476.8 528.4a2.1 2.1 0 1 0 4.2 0a2.1 2.1 0 1 0 -4.2 0M549.2 547.4a2.1 2.1 0 1 0 4.2 0a2.1 2.1 0 1 0 -4.2 0M476.8 530.8a2.1 2.1 0 1 0 4.2 0a2.1 2.1 0 1 0 -4.2 0M549.2 543.9a2.1 2.1 0 1 0 4.2 0a2.1 2.1 0 1 0 -4.2 0M476.8 523.6a2.1 2.1 0 1 0 4.2 0a2.1 2.1 0 1 0 -4.2 0M549.2 549.8a2.1 2.1 0 1 0 4.2 0a2.1 2.1 0 1 0 -4.2 0" fill="#111"/><path d="M100.5 96.4h3.2v3.2h-3.2zM100.5 109.7h3.2v3.2h-3.2zM89.9 113.9h3.2v3.2h-3.2zM94.9 116.1h3.2v3.2h-3.2zM89.9 118.6h3.2v3.2h-3.2zM94.9 119.4h3.2v3.2h-3.2zM94.9 123.1h3.2v3.2h-3.2zM100.5 122h3.2v3.2h-3.2zM105.5 118.6h3.2v3.2h-3.2zM110.5 117.3h3.2v3.2h-3.2zM105.5 122.8h3.2v3.2h-3.2zM110.5 122.4h3.2v3.2h-3.2zM105.5 125.3h3.2v3.2h-3.2zM105.5 129.2h3.2v3.2h-3.2zM94.9 130.7h3.2v3.2h-3.2zM100.5 132h3.2v3.2h-3.2zM94.9 137.9h3.2v3.2h-3.2zM100.5 139.9h3.2v3.2h-3.2zM105.5 138.4h3.2v3.2h-3.2zM89.9 144.1h3.2v3.2h-3.2zM94.9 142.9h3.2v3.2h-3.2zM100.5 144.6h3.2v3.2h-3.2zM105.5 143.8h3.2v3.2h-3.2zM110.5 144.3h3.2v3.2h-3.2zM94.9 147.1h3.2v3.2h-3.2zM100.5 148.4h3.2v3.2h-3.2zM105.5 147.1h3.2v3.2h-3.2zM94.9 150.4h3.2v3.2h-3.2zM100.5 153h3.2v3.2h-3.2zM105.5 150.4h3.2v3.2h-3.2zM94.9 159.7h3.2v3.2h-3.2zM100.5 160.5h3.2v3.2h-3.2zM89.9 165.2h3.2v3.2h-3.2zM94.9 165.9h3.2v3.2h-3.2zM105.5 166.8h3.2v3.2h-3.2zM110.5 166.1h3.2v3.2h-3.2zM94.9 169.4h3.2v3.2h-3.2zM97.6 173.6h3.2v3.2h-3.2zM102.7 173.6h3.2v3.2h-3.2zM97.6 181.7h3.2v3.2h-3.2zM102.7 181h3.2v3.2h-3.2zM288.8 129.1h3.2v3.2h-3.2zM291.6 143h3.2v3.2h-3.2zM285.8 145.9h3.2v3.2h-3.2zM288.8 146.4h3.2v3.2h-3.2zM288.8 150.4h3.2v3.2h-3.2zM288.8 155h3.2v3.2h-3.2zM288.8 160.4h3.2v3.2h-3.2zM293.7 159.9h3.2v3.2h-3.2zM293.7 163.7h3.2v3.2h-3.2zM286 162.8h3.2v3.2h-3.2zM283.4 164.9h3.2v3.2h-3.2zM283.1 166.6h3.2v3.2h-3.2zM288.1 164.4h3.2v3.2h-3.2zM289.4 164.9h3.2v3.2h-3.2zM292 168.2h3.2v3.2h-3.2zM295.4 168.2h3.2v3.2h-3.2zM298.8 168.2h3.2v3.2h-3.2zM281 170.8h3.2v3.2h-3.2zM284.4 170.8h3.2v3.2h-3.2zM287.4 171.2h3.2v3.2h-3.2zM292 171h3.2v3.2h-3.2zM295.4 170.8h3.2v3.2h-3.2zM298.8 171h3.2v3.2h-3.2zM278.2 173.6h3.2v3.2h-3.2zM281.6 173.6h3.2v3.2h-3.2zM288 173.6h3.2v3.2h-3.2zM291.4 173.8h3.2v3.2h-3.2zM298.2 173.6h3.2v3.2h-3.2zM294.9 173h3.2v3.2h-3.2zM278.2 176.2h3.2v3.2h-3.2zM281.6 176.2h3.2v3.2h-3.2zM285 176.6h3.2v3.2h-3.2zM292.4 176.4h3.2v3.2h-3.2zM295.8 176.2h3.2v3.2h-3.2zM299 176.4h3.2v3.2h-3.2zM278.4 178.8h3.2v3.2h-3.2zM281.8 178.8h3.2v3.2h-3.2zM285.2 179h3.2v3.2h-3.2zM288.6 178.8h3.2v3.2h-3.2zM292 179h3.2v3.2h-3.2zM295.4 178.8h3.2v3.2h-3.2zM298.8 178.6h3.2v3.2h-3.2zM280.4 181.4h3.2v3.2h-3.2zM286 181.6h3.2v3.2h-3.2zM292.4 181.4h3.2v3.2h-3.2zM296.8 181.4h3.2v3.2h-3.2zM283 180.4h3.2v3.2h-3.2zM470.1 100.6h3.2v3.2h-3.2zM470.1 105h3.2v3.2h-3.2zM473.6 103.6h3.2v3.2h-3.2zM470.1 112.1h3.2v3.2h-3.2zM468.4 115.8h3.2v3.2h-3.2zM472 116h3.2v3.2h-3.2zM470.1 120.8h3.2v3.2h-3.2zM466.9 127.4h3.2v3.2h-3.2zM470.1 128.2h3.2v3.2h-3.2zM473.6 129.3h3.2v3.2h-3.2zM470.1 130.9h3.2v3.2h-3.2zM466.9 134.6h3.2v3.2h-3.2zM470.1 136.7h3.2v3.2h-3.2zM473.6 136.1h3.2v3.2h-3.2zM460 140h3.2v3.2h-3.2zM463.2 140.9h3.2v3.2h-3.2zM466.9 141.6h3.2v3.2h-3.2zM473.6 143.6h3.2v3.2h-3.2zM480.8 141.6h3.2v3.2h-3.2zM460 145.7h3.2v3.2h-3.2zM463.2 145.2h3.2v3.2h-3.2zM466.9 146h3.2v3.2h-3.2zM470.1 144.4h3.2v3.2h-3.2zM473.6 145.7h3.2v3.2h-3.2zM477.1 146h3.2v3.2h-3.2zM480.8 145.7h3.2v3.2h-3.2zM463.2 149.5h3.2v3.2h-3.2zM466.9 150h3.2v3.2h-3.2zM470.1 149.2h3.2v3.2h-3.2zM473.6 148.4h3.2v3.2h-3.2zM477.1 148.4h3.2v3.2h-3.2zM460 154.8h3.2v3.2h-3.2zM470.1 152.7h3.2v3.2h-3.2zM473.6 152.7h3.2v3.2h-3.2zM463.2 157.5h3.2v3.2h-3.2zM466.9 156.9h3.2v3.2h-3.2zM470.1 158h3.2v3.2h-3.2zM473.6 157.2h3.2v3.2h-3.2zM477.1 158h3.2v3.2h-3.2zM470.1 165.2h3.2v3.2h-3.2zM470.1 171.5h3.2v3.2h-3.2zM100.6 277.1h3.2v3.2h-3.2zM100.6 290.6h3.2v3.2h-3.2zM99.1 295.4h3.2v3.2h-3.2zM103 297.3h3.2v3.2h-3.2zM103 301.2h3.2v3.2h-3.2zM96.2 304.1h3.2v3.2h-3.2zM100.1 305.1h3.2v3.2h-3.2zM103 305.1h3.2v3.2h-3.2zM96.2 310.8h3.2v3.2h-3.2zM99.1 309.9h3.2v3.2h-3.2zM103 312.8h3.2v3.2h-3.2zM99.1 313.7h3.2v3.2h-3.2zM98.1 320.5h3.2v3.2h-3.2zM103 321.5h3.2v3.2h-3.2zM100.1 324.4h3.2v3.2h-3.2zM103 326.3h3.2v3.2h-3.2zM96.2 330.1h3.2v3.2h-3.2zM100.1 329.2h3.2v3.2h-3.2zM96.2 335h3.2v3.2h-3.2zM100.1 335.9h3.2v3.2h-3.2zM103 336.5h3.2v3.2h-3.2zM100.6 346h3.2v3.2h-3.2zM96.2 354.3h3.2v3.2h-3.2zM100.1 353.3h3.2v3.2h-3.2zM104.9 352.9h3.2v3.2h-3.2zM97.2 357.2h3.2v3.2h-3.2zM103 357.2h3.2v3.2h-3.2zM100.1 361h3.2v3.2h-3.2zM103.9 362h3.2v3.2h-3.2zM93.3 367.8h3.2v3.2h-3.2zM96.2 368.7h3.2v3.2h-3.2zM100.1 367.8h3.2v3.2h-3.2zM103.9 368.3h3.2v3.2h-3.2zM107.8 368.7h3.2v3.2h-3.2zM111.6 366.8h3.2v3.2h-3.2zM96.2 374.1h3.2v3.2h-3.2zM103 372.6h3.2v3.2h-3.2zM105.9 371.6h3.2v3.2h-3.2zM98.9 370.9h3.2v3.2h-3.2zM109.4 371.2h3.2v3.2h-3.2zM92.4 370.9h3.2v3.2h-3.2zM289 332.2h3.2v3.2h-3.2zM281.9 336.6h3.2v3.2h-3.2zM285.4 337.2h3.2v3.2h-3.2zM289 336.6h3.2v3.2h-3.2zM292.6 335.8h3.2v3.2h-3.2zM296.1 336.2h3.2v3.2h-3.2zM281.9 346.9h3.2v3.2h-3.2zM285.4 344.7h3.2v3.2h-3.2zM289 347.6h3.2v3.2h-3.2zM292.6 344.3h3.2v3.2h-3.2zM296.1 347.6h3.2v3.2h-3.2zM285.4 347.6h3.2v3.2h-3.2zM292.6 347.6h3.2v3.2h-3.2zM281.9 354h3.2v3.2h-3.2zM285.4 356.9h3.2v3.2h-3.2zM289 353.3h3.2v3.2h-3.2zM296.1 355.4h3.2v3.2h-3.2zM281.9 357.6h3.2v3.2h-3.2zM289 356.1h3.2v3.2h-3.2zM281.9 350.4h3.2v3.2h-3.2zM281.9 362.6h3.2v3.2h-3.2zM285.4 364h3.2v3.2h-3.2zM289 361.1h3.2v3.2h-3.2zM292.6 361.9h3.2v3.2h-3.2zM296.1 362.6h3.2v3.2h-3.2zM281.9 366.1h3.2v3.2h-3.2zM285.4 366.8h3.2v3.2h-3.2zM292.6 368.3h3.2v3.2h-3.2zM296.1 366.8h3.2v3.2h-3.2zM289 369.7h3.2v3.2h-3.2zM278.3 371.8h3.2v3.2h-3.2zM281.9 371.1h3.2v3.2h-3.2zM285.4 372.5h3.2v3.2h-3.2zM289 372.5h3.2v3.2h-3.2zM292.6 372.5h3.2v3.2h-3.2zM296.1 372.5h3.2v3.2h-3.2zM299.7 372.8h3.2v3.2h-3.2zM285.4 377.5h3.2v3.2h-3.2zM292.6 376.1h3.2v3.2h-3.2zM473 325.2h3.2v3.2h-3.2zM472.7 340.7h3.2v3.2h-3.2zM472 350.1h3.2v3.2h-3.2zM476.1 351.6h3.2v3.2h-3.2zM473.9 353.9h3.2v3.2h-3.2zM470.5 358.8h3.2v3.2h-3.2zM474.6 359.5h3.2v3.2h-3.2zM469.7 363.3h3.2v3.2h-3.2zM473.9 364h3.2v3.2h-3.2zM478 363.7h3.2v3.2h-3.2zM465.6 366.7h3.2v3.2h-3.2zM467.8 366.3h3.2v3.2h-3.2zM470.1 365.9h3.2v3.2h-3.2zM472.4 366.3h3.2v3.2h-3.2zM475.7 365.9h3.2v3.2h-3.2zM478 366.3h3.2v3.2h-3.2zM480.3 365.9h3.2v3.2h-3.2zM463.3 370.8h3.2v3.2h-3.2zM465.6 370.1h3.2v3.2h-3.2zM467.8 370.5h3.2v3.2h-3.2zM470.1 370.1h3.2v3.2h-3.2zM472.7 370.8h3.2v3.2h-3.2zM475.4 370.1h3.2v3.2h-3.2zM478 370.5h3.2v3.2h-3.2zM481 370.1h3.2v3.2h-3.2zM484 370.8h3.2v3.2h-3.2zM463.7 373.5h3.2v3.2h-3.2zM465.9 373.8h3.2v3.2h-3.2zM468.2 373.1h3.2v3.2h-3.2zM470.5 373.8h3.2v3.2h-3.2zM473.1 373.5h3.2v3.2h-3.2zM475.7 373.8h3.2v3.2h-3.2zM478.4 373.5h3.2v3.2h-3.2zM481 373.8h3.2v3.2h-3.2zM465.6 376.9h3.2v3.2h-3.2zM467.8 377.2h3.2v3.2h-3.2zM470.5 376.5h3.2v3.2h-3.2zM473.1 377.2h3.2v3.2h-3.2zM475.7 376.9h3.2v3.2h-3.2zM478.4 377.2h3.2v3.2h-3.2zM649.4 289.5h3.2v3.2h-3.2zM649.4 298.7h3.2v3.2h-3.2zM647.6 314.4h3.2v3.2h-3.2zM651.6 313.4h3.2v3.2h-3.2zM646.1 320.4h3.2v3.2h-3.2zM649.4 322.7h3.2v3.2h-3.2zM653.1 326.7h3.2v3.2h-3.2zM656.8 328.6h3.2v3.2h-3.2zM638.7 332.8h3.2v3.2h-3.2zM642.4 330.9h3.2v3.2h-3.2zM646.1 332.2h3.2v3.2h-3.2zM649.4 332.2h3.2v3.2h-3.2zM653.4 332.2h3.2v3.2h-3.2zM657.2 332.8h3.2v3.2h-3.2zM660.5 331.9h3.2v3.2h-3.2zM649.4 335.9h3.2v3.2h-3.2zM647.6 342.6h3.2v3.2h-3.2zM651.3 342.6h3.2v3.2h-3.2zM638.7 355.8h3.2v3.2h-3.2zM642.4 357.3h3.2v3.2h-3.2zM646.1 357.7h3.2v3.2h-3.2zM649.4 357.7h3.2v3.2h-3.2zM653.4 357.7h3.2v3.2h-3.2zM657.2 358.1h3.2v3.2h-3.2zM660.5 354h3.2v3.2h-3.2zM642.4 362.3h3.2v3.2h-3.2zM646.1 361.4h3.2v3.2h-3.2zM653.4 363.2h3.2v3.2h-3.2zM657.2 362.3h3.2v3.2h-3.2zM649.4 365.1h3.2v3.2h-3.2zM653.1 364.7h3.2v3.2h-3.2zM657.2 366h3.2v3.2h-3.2zM642.4 368.7h3.2v3.2h-3.2zM646.1 369.7h3.2v3.2h-3.2zM649.4 371.5h3.2v3.2h-3.2zM653.4 371.5h3.2v3.2h-3.2zM656.8 371.5h3.2v3.2h-3.2zM646.1 373.9h3.2v3.2h-3.2zM642.4 377.6h3.2v3.2h-3.2zM649.4 377h3.2v3.2h-3.2zM653.1 376.1h3.2v3.2h-3.2zM656.8 378.5h3.2v3.2h-3.2z" fill="#111"/><path d="M137.6 103L139.8 107.1H135.4zM139.6 121.1L141.8 125.2H137.4zM137.9 124.1L140.1 128.2H135.8zM136.1 129.2L138.2 133.3H133.9zM139.1 129.2L141.2 133.3H136.9zM140.7 129.7L142.8 133.8H138.5zM138.6 135L140.8 139.1H136.4zM140.2 135.2L142.3 139.3H138zM135.6 137.8L137.8 141.9H133.4zM137.1 137.8L139.2 141.9H134.9zM138.1 140.3L140.2 144.4H135.9zM140.2 140.8L142.3 144.9H138zM141.7 142.7L143.8 146.8H139.5zM127.6 146.3L129.8 150.4H125.4zM129.6 147.8L131.8 151.9H127.4zM131.6 148.9L133.8 153H129.4zM133.6 147.3L135.8 151.4H131.4zM135.1 148.4L137.2 152.5H132.9zM137.1 146.8L139.2 150.9H134.9zM138.6 147.8L140.8 151.9H136.4zM140.7 147.8L142.8 151.9H138.5zM142.7 148.4L144.8 152.5H140.5zM144.7 148.9L146.8 153H142.5zM146.2 149.9L148.3 154H144zM136.1 150.4L138.2 154.5H133.9zM137.6 151.9L139.8 156H135.4zM136.1 154.9L138.2 159H133.9zM138.1 156.4L140.2 160.5H135.9zM131.6 157.4L133.8 161.5H129.4zM134.6 157.9L136.8 162H132.4zM139.1 157.9L141.2 162H136.9zM143.7 157.9L145.8 162H141.5zM133.1 160.4L135.2 164.5H130.9zM135.1 159.9L137.2 164H132.9zM137.6 160.4L139.8 164.5H135.4zM140.7 160.9L142.8 165H138.5zM133.6 165.5L135.8 169.6H131.4zM138.1 166L140.2 170.1H135.9zM131.1 169L133.2 173.1H128.9zM139.6 167.5L141.8 171.6H137.4zM127.6 172.5L129.8 176.6H125.4zM141.2 171L143.3 175.1H139zM143.7 171L145.8 175.1H141.5zM147.7 172L149.8 176.1H145.5zM133.6 174.6L135.8 178.7H131.4zM137.6 174L139.8 178.1H135.4zM127.6 177.1L129.8 181.2H125.4zM130.6 178.1L132.8 182.2H128.4zM133.6 177.6L135.8 181.7H131.4zM136.1 177.1L138.2 181.2H133.9zM138.6 177.6L140.8 181.7H136.4zM141.7 177.6L143.8 181.7H139.5zM148.2 176.6L150.3 180.7H146zM144.5 175.2L146.7 179.3H142.3zM129.6 180.1L131.8 184.2H127.4zM132.6 180.1L134.8 184.2H130.4zM135.1 180.1L137.2 184.2H132.9zM138.1 179.6L140.2 183.7H135.9zM141.2 180.1L143.3 184.2H139zM145.7 179.6L147.8 183.7H143.5zM133.6 183.1L135.8 187.2H131.4zM137.6 182.6L139.8 186.7H135.4zM141.2 183.1L143.3 187.2H139zM326.2 101L328.3 105.1H324.1zM324.9 121L327 125.1H322.8zM327.8 121L329.9 125.1H325.7zM324.1 128.2L326.2 132.3H322zM328.9 127.4L331 131.5H326.8zM323.9 134.1L326 138.2H321.8zM326.5 134.1L328.6 138.2H324.4zM318.8 138.7L320.9 142.8H316.7zM323.9 139.6L326 143.7H321.8zM326.2 140.1L328.3 144.2H324.1zM328.5 141.5L330.6 145.6H326.4zM331.7 137.8L333.8 141.9H329.6zM334 138.2L336.1 142.3H331.9zM321.5 142.4L323.6 146.5H319.4zM323.9 143.3L326 147.4H321.8zM326.2 144.7L328.3 148.8H324.1zM331.2 142.9L333.3 147H329.1zM323.9 145.6L326 149.7H321.8zM333.5 149.3L335.6 153.4H331.4zM323.9 150.7L326 154.8H321.8zM321.5 152.6L323.6 156.7H319.4zM318.8 155.3L320.9 159.4H316.7zM321.5 155.3L323.6 159.4H319.4zM323.9 153.5L326 157.6H321.8zM326.6 154.4L328.8 158.5H324.5zM331.2 153.9L333.3 158H329.1zM333.5 153.5L335.6 157.6H331.4zM336.3 154.9L338.4 159H334.2zM318.3 159.5L320.4 163.6H316.2zM321.1 159.9L323.2 164H319zM323.9 159.5L326 163.6H321.8zM326.6 158.6L328.8 162.7H324.5zM329.4 159.9L331.5 164H327.2zM332.2 159.5L334.3 163.6H330.1zM334.9 159.5L337 163.6H332.8zM337.2 158.6L339.3 162.7H335.1zM326.2 162.2L328.3 166.3H324.1zM329.4 162.2L331.5 166.3H327.2zM321.5 165L323.6 169.1H319.4zM326.6 164.6L328.8 168.7H324.5zM331.2 164.6L333.3 168.7H329.1zM319.2 168.2L321.3 172.3H317.1zM323.9 167.8L326 171.9H321.8zM329.4 167.3L331.5 171.4H327.2zM334 167.8L336.1 171.9H331.9zM316.9 171.5L319 175.6H314.8zM321.5 172.4L323.6 176.5H319.4zM326.2 172.4L328.3 176.5H324.1zM329.4 171.5L331.5 175.6H327.2zM333.1 171.5L335.2 175.6H331zM336.3 171L338.4 175.1H334.2zM318.8 174.7L320.9 178.8H316.7zM323.9 174.7L326 178.8H321.8zM327.5 174.2L329.6 178.3H325.4zM331.2 174.7L333.3 178.8H329.1zM334 174.7L336.1 178.8H331.9zM321.5 177.9L323.6 182H319.4zM326.6 177.9L328.8 182H324.5zM328.9 177.5L331 181.6H326.8zM331.2 180.7L333.3 184.8H329.1zM324.5 139L326.7 143.1H322.4zM329 139.3L331.1 143.4H326.8zM324.7 142.6L326.8 146.7H322.5zM328 142.1L330.2 146.2H325.9zM327 145.7L329.2 149.8H324.9zM327 148.5L329.1 152.6H324.8zM324.4 152L326.5 156.1H322.2zM328.7 152.4L330.8 156.5H326.5zM321.7 155.4L323.9 159.5H319.6zM326.2 156.2L328.4 160.3H324.1zM331 155.3L333.2 159.4H328.9zM322.7 158.7L324.8 162.8H320.5zM326.6 158.7L328.8 162.8H324.5zM330.1 159.6L332.3 163.7H328zM326.2 162.2L328.3 166.3H324zM325 166.4L327.1 170.5H322.8zM328.3 166.5L330.5 170.6H326.2zM322.3 169.6L324.5 173.6H320.2zM326.1 169.9L328.3 174H324zM330.9 169.9L333.1 174H328.8zM322.8 172.5L324.9 176.6H320.6zM326.3 172.3L328.5 176.4H324.2zM330.3 172.2L332.4 176.3H328.1zM324.2 176.3L326.3 180.4H322zM328 176.4L330.2 180.4H325.9zM507.6 107.4L509.8 111.5H505.5zM508.8 109.8L510.9 113.9H506.6zM506.4 111.6L508.6 115.6H504.3zM505.9 113.9L508 118H503.7zM509.4 113.3L511.5 117.4H507.2zM507 116.8L509.2 120.9H504.9zM510 117.4L512.1 121.5H507.8zM505.3 118L507.4 122.1H503.1zM507.6 119.8L509.8 123.9H505.5zM510.6 120.4L512.7 124.4H508.4zM507.6 122.7L509.8 126.8H505.5zM504.1 125.6L506.2 129.7H501.9zM507 126.2L509.2 130.3H504.9zM510.6 125.6L512.7 129.7H508.4zM502.9 128L505.1 132.1H500.8zM506.4 128.6L508.6 132.7H504.3zM509.4 128L511.5 132.1H507.2zM512.3 127.4L514.5 131.5H510.2zM507 130.3L509.2 134.4H504.9zM509.4 130.9L511.5 135H507.2zM507.6 132.7L509.8 136.8H505.5zM500 138L502.1 142.1H497.8zM503.5 136.8L505.7 140.9H501.4zM506.4 136.2L508.6 140.3H504.3zM509.4 136.2L511.5 140.3H507.2zM512.9 136.8L515.1 140.9H510.8zM516.4 138L518.6 142.1H514.3zM497 140.3L499.2 144.4H494.9zM501.2 140.3L503.3 144.4H499zM504.1 140.9L506.2 145H501.9zM507.6 139.7L509.8 143.8H505.5zM511.1 140.3L513.3 144.4H509zM514.7 140.3L516.8 144.4H512.5zM518.2 140.3L520.3 144.4H516zM502.9 143.3L505.1 147.3H500.8zM506.4 143.3L508.6 147.3H504.3zM510 142.7L512.1 146.8H507.8zM512.9 143.9L515.1 147.9H510.8zM504.7 146.2L506.8 150.3H502.5zM508.2 145.6L510.4 149.7H506.1zM511.7 146.8L513.9 150.9H509.6zM501.7 149.7L503.9 153.8H499.6zM505.3 149.1L507.4 153.2H503.1zM508.8 150.3L510.9 154.4H506.6zM512.9 149.1L515.1 153.2H510.8zM505.9 152.7L508 156.7H503.7zM509.4 153.2L511.5 157.3H507.2zM505.3 155L507.4 159.1H503.1zM508.8 155.6L510.9 159.7H506.6zM507.6 157.9L509.8 162H505.5zM507 160.9L509.2 165H504.9zM509.4 161.5L511.5 165.6H507.2zM506.4 163.8L508.6 167.9H504.3zM508.8 163.2L510.9 167.3H506.6zM505.3 166.8L507.4 170.8H503.1zM507.6 166.2L509.8 170.3H505.5zM510.6 166.8L512.7 170.8H508.4zM508 108.1L510.1 112.2H505.8zM507.2 110L509.4 114.1H505.1zM507.9 113.1L510 117.2H505.7zM506 115.4L508.2 119.5H503.9zM509.4 115.6L511.5 119.7H507.2zM506 117.9L508.1 122H503.8zM509.2 118.1L511.4 122.1H507.1zM507.8 121.1L509.9 125.2H505.6zM508 123.4L510.1 127.5H505.8zM505.9 125.8L508 129.8H503.7zM508.9 125.6L511.1 129.6H506.8zM505.9 128.4L508 132.5H503.7zM509.2 128.9L511.4 132.9H507.1zM507.6 131.2L509.8 135.3H505.5zM505.7 133.4L507.8 137.4H503.5zM509.2 133.5L511.3 137.5H507zM502.5 136.7L504.7 140.8H500.4zM506 136.1L508.2 140.2H503.9zM509.6 136.6L511.8 140.7H507.5zM512.9 136.7L515 140.8H510.7zM499.3 139.2L501.5 143.3H497.2zM502.4 139.3L504.5 143.4H500.2zM506.3 138.7L508.4 142.8H504.1zM509.5 139.1L511.7 143.2H507.4zM512.7 139L514.8 143.1H510.5zM516.1 139.3L518.2 143.4H513.9zM502.5 141.8L504.7 145.9H500.4zM505.8 141.8L507.9 145.9H503.6zM509.6 141.5L511.8 145.6H507.5zM512.8 141.9L514.9 146H510.6zM504.4 144.1L506.5 148.2H502.2zM507.4 144L509.5 148.1H505.2zM511.2 143.9L513.3 148H509zM504.5 146.6L506.7 150.6H502.4zM507.9 146.6L510.1 150.7H505.8zM511.4 146.9L513.5 151H509.2zM504.2 149.4L506.4 153.4H502.1zM507.7 149.4L509.9 153.5H505.6zM510.8 149.1L513 153.2H508.7zM505.9 152.3L508.1 156.4H503.8zM509.4 151.6L511.5 155.7H507.2zM507.9 154.7L510 158.8H505.7zM507.9 156.9L510.1 161H505.8zM507.8 159.4L509.9 163.5H505.6zM507.7 162.2L509.9 166.2H505.6zM505.7 165.2L507.8 169.3H503.5zM509 165L511.1 169H506.8zM647.5 125.7L649.6 129.8H645.4zM647.5 143.2L649.6 147.3H645.4zM647.5 147.7L649.6 151.8H645.4zM647.5 150.2L649.6 154.3H645.4zM647.5 155.2L649.6 159.3H645.4zM647.5 158.2L649.6 162.3H645.4zM647.5 165.3L649.6 169.4H645.4zM647.5 167.3L649.6 171.4H645.4zM647.5 169.7L649.6 173.8H645.4zM647.5 171.9L649.6 176H645.4zM644.5 174.5L646.6 178.6H642.4zM647.8 174.5L649.9 178.6H645.6zM651.1 174.5L653.2 178.6H648.9zM641.2 176.5L643.3 180.6H639zM644.5 176.5L646.6 180.6H642.4zM647.8 176.5L649.9 180.6H645.6zM651.1 176.5L653.2 180.6H648.9zM654.4 176.5L656.5 180.6H652.2zM637.9 178.5L640 182.6H635.8zM641.2 178.5L643.3 182.6H639zM644.5 178.5L646.6 182.6H642.4zM647.8 178.5L649.9 182.6H645.6zM651.1 178.5L653.2 182.6H648.9zM654.4 178.5L656.5 182.6H652.2zM657.7 178.5L659.8 182.6H655.5zM637.9 180.3L640 184.4H635.8zM641.2 180.3L643.3 184.4H639zM644.5 180.3L646.6 184.4H642.4zM647.8 180.3L649.9 184.4H645.6zM651.1 180.3L653.2 184.4H648.9zM654.4 180.3L656.5 184.4H652.2zM657.7 180.3L659.8 184.4H655.5zM639.5 181.7L641.7 185.8H637.4zM642.8 181.7L645 185.8H640.7zM646.1 181.7L648.3 185.8H644zM649.4 181.7L651.6 185.8H647.3zM652.8 181.7L654.9 185.8H650.6zM656 181.7L658.2 185.8H653.9zM138.9 299.2L141.1 303.3H136.8zM142.4 303.3L144.6 307.4H140.2zM140.5 305.5L142.7 309.6H138.3zM138.1 307.6L140.2 311.7H135.9zM138.9 313.5L141.1 317.6H136.8zM142.4 320.8L144.6 324.9H140.2zM140.5 323.6L142.7 327.7H138.3zM135.7 326.7L137.8 330.8H133.5zM138.9 326.7L141.1 330.8H136.8zM142.4 326.4L144.6 330.5H140.2zM137.3 333.9L139.5 338H135.2zM140.5 334.7L142.7 338.8H138.3zM136 340.5L138.2 344.6H133.9zM144.4 342.4L146.6 346.5H142.3zM137.9 342.9L140 347H135.7zM142.1 343.3L144.2 347.4H139.9zM138.8 346.1L141 350.2H136.7zM142.1 346.6L144.2 350.7H139.9zM143.9 347.1L146.1 351.2H141.8zM136 349.4L138.2 353.5H133.9zM138.3 349.4L140.5 353.5H136.2zM141.6 348.9L143.8 353H139.5zM144.4 348.5L146.6 352.6H142.3zM133.2 355L135.4 359.1H131.1zM136 355.9L138.2 360H133.9zM139.7 355.5L141.9 359.6H137.6zM142.1 356.4L144.2 360.5H139.9zM144.9 355.5L147 359.6H142.7zM137.9 359.2L140 363.3H135.7zM128.5 362.5L130.7 366.6H126.4zM143 362.5L145.2 366.6H140.9zM144.9 363L147 367H142.7zM128.1 369.5L130.2 373.6H125.9zM130.9 368.6L133 372.6H128.7zM133.2 365.8L135.4 369.8H131.1zM136 367.6L138.2 371.7H133.9zM138.8 367.2L141 371.2H136.7zM141.6 368.1L143.8 372.2H139.5zM144.4 366.7L146.6 370.8H142.3zM147.7 367.6L149.8 371.7H145.5zM149.1 368.6L151.2 372.6H146.9zM129.5 371.8L131.6 375.9H127.3zM132.3 372.8L134.4 376.8H130.1zM135.1 372.3L137.2 376.4H132.9zM137.9 371.4L140 375.4H135.7zM140.7 372.3L142.8 376.4H138.5zM143.5 371.8L145.6 375.9H141.3zM146.3 372.3L148.4 376.4H144.1zM131.3 376.5L133.5 380.6H129.2zM134.1 377L136.3 381H132zM137.4 376L139.6 380.1H135.3zM140.7 377L142.8 381H138.5zM143.9 376.5L146.1 380.6H141.8zM146.7 377L148.9 381H144.6zM136.9 363.4L139.1 367.5H134.8zM141.1 363.3L143.2 367.4H138.9zM133.3 366.6L135.5 370.7H131.2zM136.7 366.7L138.8 370.8H134.5zM140.4 366.7L142.6 370.8H138.3zM144.3 366.3L146.4 370.4H142.1zM133.2 370.1L135.4 374.2H131.1zM136.7 369.5L138.9 373.6H134.6zM141 370.2L143.2 374.3H138.9zM144.8 369.6L146.9 373.7H142.6zM133.8 372.3L135.9 376.4H131.6zM137.5 372.5L139.6 376.6H135.3zM140.5 372.4L142.7 376.4H138.4zM144.5 373.1L146.7 377.1H142.4zM134.9 375.8L137 379.9H132.7zM139.1 375.6L141.3 379.7H137zM142.8 375.3L145 379.4H140.7zM326.7 287.4L328.8 291.5H324.6zM323.5 299.7L325.6 303.8H321.4zM326.1 302.4L328.2 306.5H324zM330.6 300.6L332.8 304.7H328.5zM323.5 304.1L325.6 308.2H321.4zM327 305.9L329.1 310H324.9zM325.8 314.7L327.9 318.8H323.7zM329.7 317.9L331.8 322H327.6zM326.1 320.9L328.2 325H324zM323.4 331L325.5 335.1H321.2zM326.2 332.8L328.3 336.9H324zM329.4 332.4L331.5 336.4H327.2zM330.8 333.3L332.9 337.4H328.6zM323.4 337.9L325.5 342H321.2zM326.2 339.3L328.3 343.4H324zM329.4 339.7L331.5 343.8H327.2zM332.2 340.2L334.3 344.3H330zM323.9 342.1L326 346.1H321.7zM321.1 347.6L323.2 351.7H318.9zM323.4 347.1L325.5 351.2H321.2zM328.5 347.6L330.6 351.7H326.3zM330.8 347.1L332.9 351.2H328.6zM332.6 348.1L334.8 352.1H330.5zM316.5 352.2L318.6 356.3H314.3zM318.8 351.7L320.9 355.8H316.6zM321.5 350.8L323.7 354.9H319.4zM324.3 351.3L326.5 355.4H322.2zM327.1 350.8L329.2 354.9H324.9zM329.9 350.8L332 354.9H327.7zM332.6 351.3L334.8 355.4H330.5zM335.9 351.7L338 355.8H333.7zM337.7 352.2L339.9 356.3H335.6zM316.5 354.5L318.6 358.6H314.3zM316.5 360.5L318.6 364.6H314.3zM318.8 359.1L320.9 363.2H316.6zM321.1 357.3L323.2 361.4H318.9zM323.9 358.7L326 362.8H321.7zM326.6 359.6L328.8 363.7H324.5zM329.4 359.1L331.5 363.2H327.2zM331.7 357.3L333.8 361.4H329.5zM334 359.6L336.2 363.7H331.9zM336.8 358.2L338.9 362.3H334.6zM320.6 363.3L322.8 367.4H318.5zM323.4 362.8L325.5 366.9H321.2zM326.2 363.8L328.3 367.8H324zM328.5 362.4L330.6 366.5H326.3zM330.8 364.2L332.9 368.3H328.6zM323.4 367.4L325.5 371.5H321.2zM326.6 367L328.8 371.1H324.5zM328.9 366.5L331.1 370.6H326.8zM328.5 370.2L330.6 374.3H326.3zM323.4 373L325.5 377.1H321.2zM330.3 373L332.5 377.1H328.2zM328.5 375.3L330.6 379.4H326.3zM325.7 378.1L327.8 382.2H323.5zM323.2 347.4L325.3 351.5H321zM327 346.9L329.1 351H324.8zM329.9 347.1L332.1 351.2H327.8zM319.4 350.5L321.5 354.5H317.2zM323.4 350.2L325.5 354.3H321.2zM326.9 350.3L329 354.4H324.7zM330 350.1L332.2 354.2H327.9zM333.7 350.5L335.8 354.6H331.5zM321 353.4L323.1 357.4H318.8zM324.6 353.2L326.7 357.3H322.4zM328.4 352.9L330.6 357H326.3zM332.5 352.6L334.7 356.6H330.4zM322.8 356.4L324.9 360.4H320.6zM326.8 355.5L329 359.6H324.7zM330.9 356.4L333 360.5H328.7zM319.2 358.8L321.4 362.9H317.1zM322.8 358.7L325 362.7H320.7zM326.9 358.5L329.1 362.6H324.8zM330.6 358.4L332.7 362.5H328.4zM333.7 359.2L335.8 363.2H331.5zM323.1 361.7L325.3 365.7H321zM326.9 361.7L329 365.8H324.7zM330.3 361.3L332.4 365.4H328.1zM325.2 365.1L327.4 369.2H323.1zM329.1 364.8L331.2 368.9H326.9zM511.2 318.6L513.4 322.7H509.1zM510.3 323.9L512.4 328H508.1zM512.6 324.5L514.8 328.6H510.5zM511.2 330.9L513.4 335H509.1zM511.2 337.4L513.4 341.5H509.1zM509.1 342.7L511.2 346.8H506.9zM513.2 343.9L515.4 348H511.1zM506.7 348L508.9 352.1H504.6zM510.3 347.4L512.4 351.5H508.1zM513.2 348.6L515.4 352.7H511.1zM505 350.3L507.1 354.4H502.8zM509.1 351.5L511.2 355.6H506.9zM512.6 350.3L514.8 354.4H510.5zM519.1 353.9L521.2 357.9H516.9zM503.8 356.8L506 360.9H501.7zM506.7 355.6L508.9 359.7H504.6zM510.3 356.2L512.4 360.3H508.1zM514.4 355L516.5 359.1H512.2zM517.9 356.2L520.1 360.3H515.8zM505.6 359.7L507.7 363.8H503.4zM509.7 359.7L511.8 363.8H507.5zM513.8 359.1L515.9 363.2H511.6zM519.7 359.1L521.8 363.2H517.5zM500.9 364.4L503 368.5H498.7zM504.4 364.4L506.5 368.5H502.2zM507.9 363.8L510.1 367.9H505.8zM511.4 364.4L513.6 368.5H509.3zM515.6 365L517.7 369.1H513.4zM519.1 364.4L521.2 368.5H516.9zM522 363.2L524.2 367.3H519.9zM502.6 367.9L504.8 372H500.5zM506.2 368.5L508.3 372.6H504zM509.7 367.4L511.8 371.4H507.5zM513.2 367.9L515.4 372H511.1zM517.3 367.4L519.5 371.4H515.2zM520.8 368.5L523 372.6H518.7zM500.9 372.1L503 376.1H498.7zM504.4 371.5L506.5 375.6H502.2zM508.5 372.6L510.7 376.7H506.4zM512.6 371.5L514.8 375.6H510.5zM516.7 372.6L518.9 376.7H514.6zM522 372.6L524.2 376.7H519.9zM503.2 376.8L505.4 380.8H501.1zM506.7 376.2L508.9 380.3H504.6zM510.9 376.8L513 380.8H508.7zM515 376.2L517.1 380.3H512.8zM519.1 376.8L521.2 380.8H516.9zM510.9 343.1L513 347.2H508.7zM510.8 345.7L513 349.8H508.7zM509 348.1L511.2 352.2H506.9zM513.2 348.1L515.4 352.2H511.1zM509.5 351.1L511.6 355.2H507.3zM512.8 351.1L515 355.2H510.7zM507.4 354.2L509.5 358.3H505.2zM510.8 353.7L512.9 357.8H508.6zM514.2 353.8L516.4 357.8H512.1zM505.8 357.1L507.9 361.1H503.6zM509.3 356.4L511.4 360.5H507.1zM512.7 357.1L514.8 361.2H510.5zM516 356.8L518.2 360.9H513.9zM505.8 359.7L507.9 363.8H503.6zM509.2 359.7L511.4 363.8H507.1zM512.8 359.7L515 363.7H510.7zM516.7 359.6L518.8 363.7H514.5zM503.8 362L506 366.1H501.7zM508 362.3L510.1 366.4H505.8zM510.9 362.7L513 366.8H508.7zM514.7 362.5L516.8 366.6H512.5zM518.4 362.2L520.6 366.3H516.3zM504 365.4L506.1 369.5H501.8zM507.3 365.4L509.5 369.4H505.2zM510.8 365.3L512.9 369.4H508.6zM514.8 365.5L516.9 369.6H512.6zM518.4 365.1L520.5 369.2H516.2zM503.9 367.7L506 371.7H501.7zM507.6 368L509.8 372H505.5zM510.8 368.3L512.9 372.4H508.6zM514.6 368.1L516.8 372.2H512.5zM517.9 367.7L520 371.8H515.7zM503.7 370.6L505.9 374.7H501.6zM507.4 370.7L509.6 374.8H505.3zM511 371L513.2 375.1H508.9zM514.9 370.5L517.1 374.6H512.8zM518 370.5L520.2 374.6H515.9zM504.2 373.9L506.4 378H502.1zM507.4 373.8L509.5 377.8H505.2zM510.9 373.2L513.1 377.2H508.8zM514.8 373.4L517 377.5H512.7zM517.8 373.5L520 377.6H515.7zM684.8 311.2L686.9 315.3H682.6zM687.6 311.2L689.8 315.3H685.5zM690.1 313.7L692.2 317.8H688zM686 314.5L688.1 318.6H683.9zM686 319.6L688.1 323.7H683.9zM689.8 319.2L691.9 323.3H687.6zM683.4 327.9L685.5 332H681.2zM686.8 326.6L688.9 330.7H684.6zM689.3 327.6L691.4 331.7H687.1zM692.7 327.1L694.9 331.2H690.6zM686.8 331.3L688.9 335.4H684.6zM682.6 336.3L684.8 340.4H680.5zM686.8 336.3L688.9 340.4H684.6zM690.1 335.5L692.2 339.6H688zM692.7 337.2L694.9 341.3H690.6zM682.1 341.5L684.3 345.6H680zM687.7 339.6L689.9 343.7H685.6zM692.4 341L694.6 345.1H690.3zM684.9 344.3L687.1 348.4H682.8zM690.1 343.8L692.2 347.9H687.9zM687.3 346.6L689.4 350.7H685.1zM677 353.6L679.2 357.7H674.9zM679.8 353.1L682 357.2H677.7zM682.6 354.1L684.8 358.2H680.5zM684.9 352.2L687.1 356.3H682.8zM687.7 353.6L689.9 357.7H685.6zM690.1 352.7L692.2 356.8H687.9zM692.9 352.2L695 356.3H690.7zM695.2 353.6L697.4 357.7H693.1zM698 354.1L700.2 358.2H695.9zM682.1 356.9L684.3 361H680zM684.5 356.4L686.6 360.5H682.3zM687.3 355.9L689.4 360H685.1zM690.1 356.9L692.2 361H687.9zM692.4 356.4L694.6 360.5H690.3zM677.5 362L679.6 366.1H675.3zM679.8 361.1L682 365.2H677.7zM682.6 360.2L684.8 364.2H680.5zM685.4 360.6L687.6 364.7H683.3zM688.2 361.1L690.4 365.2H686.1zM691 360.2L693.2 364.2H688.9zM694.3 362L696.4 366.1H692.1zM677 365.8L679.2 369.8H674.9zM679.3 364.8L681.5 368.9H677.2zM682.1 365.3L684.3 369.4H680zM684.9 366.2L687.1 370.3H682.8zM687.7 365.3L689.9 369.4H685.6zM690.5 365.8L692.7 369.8H688.4zM693.3 364.8L695.5 368.9H691.2zM696.1 364.8L698.3 368.9H694zM698 365.8L700.2 369.8H695.9zM680.3 368.1L682.4 372.2H678.1zM682.6 370L684.8 374H680.5zM685.4 368.6L687.6 372.6H683.3zM688.7 369.5L690.8 373.6H686.5zM692.4 370.4L694.6 374.5H690.3zM687.7 373.7L689.9 377.8H685.6zM682.6 376L684.8 380.1H680.5zM692.4 376L694.6 380.1H690.3zM678.6 351.7L680.8 355.8H676.5zM682.1 351.5L684.3 355.6H680zM685.8 352L688 356.1H683.7zM689.2 351.5L691.3 355.6H687zM692.6 351.6L694.7 355.7H690.4zM695.8 352.1L698 356.2H693.7zM682.4 354.2L684.6 358.3H680.3zM685.8 354.6L688 358.7H683.7zM689 354.4L691.1 358.5H686.8zM692.7 354.5L694.8 358.6H690.5zM682.2 357.5L684.3 361.6H680zM685.3 357.6L687.4 361.6H683.1zM689.4 357.7L691.6 361.8H687.3zM692.6 357L694.8 361.1H690.5zM679.9 359.8L682.1 363.9H677.8zM684.2 360L686.3 364.1H682zM687.2 360.5L689.3 364.5H685zM690.7 360.2L692.8 364.3H688.5zM694.2 359.8L696.4 363.9H692.1zM680.4 363.2L682.5 367.3H678.2zM683.5 362.7L685.7 366.8H681.4zM687.2 362.6L689.4 366.7H685.1zM690.8 363.2L692.9 367.3H688.6zM694.4 363L696.6 367.1H692.3zM682.3 365.5L684.5 369.5H680.2zM685.6 365.6L687.8 369.7H683.5zM689.1 365.4L691.3 369.5H687zM692.8 365.4L694.9 369.5H690.6zM683.5 368.8L685.7 372.9H681.4zM687.7 368.5L689.8 372.6H685.5zM690.7 368.3L692.9 372.4H688.6zM685.4 371.4L687.5 375.5H683.2zM688.8 371L690.9 375.1H686.6z" fill="#111"/><path d="M170.9 138.7H175.2L173 142.8zM172.7 139.2H177L174.9 143.3zM171.8 145.2H176.1L173.9 149.3zM171.8 154.4H176.1L173.9 158.5zM171.8 162.7H176.1L173.9 166.8zM171.8 165H176.1L173.9 169.1zM171.8 167.4H176.1L173.9 171.4zM169 170.1H173.3L171.2 174.2zM171.8 169.7H176.1L173.9 173.7zM174.6 170.1H178.9L176.7 174.2zM162.1 172.9H166.4L164.2 177zM164.9 172.4H169.2L167 176.5zM167.6 172.9H171.9L169.8 177zM170.4 172H174.7L172.6 176.1zM173.2 172.4H177.5L175.3 176.5zM175.9 172.9H180.2L178.1 177zM178.7 172.4H183L180.9 176.5zM181 173.4H185.3L183.2 177.4zM161.6 175.2H165.9L163.8 179.3zM164.4 174.7H168.7L166.5 178.8zM167.2 175.2H171.5L169.3 179.3zM169.9 174.7H174.2L172.1 178.8zM172.7 174.7H177L174.9 178.8zM175.5 175.2H179.8L177.6 179.3zM178.3 174.7H182.6L180.4 178.8zM181.5 175.2H185.8L183.6 179.3zM161.2 178H165.5L163.3 182.1zM163.9 178.4H168.2L166.1 182.5zM166.7 178H171L168.9 182.1zM169.5 178.4H173.8L171.6 182.5zM172.2 178H176.5L174.4 182.1zM175 178.4H179.3L177.2 182.5zM177.8 178H182.1L179.9 182.1zM180.6 178.4H184.9L182.7 182.5zM182.9 178H187.2L185 182.1zM161.6 180.7H165.9L163.8 184.8zM164.4 181.2H168.7L166.5 185.3zM167.2 180.7H171.5L169.3 184.8zM169.9 181.2H174.2L172.1 185.3zM172.7 180.7H177L174.9 184.8zM175.5 181.2H179.8L177.6 185.3zM178.3 180.7H182.6L180.4 184.8zM181 181.2H185.3L183.2 185.3zM162.1 183.8H166.4L164.2 187.9zM165.3 183.5H169.6L167.5 187.6zM168.1 184H172.4L170.2 188.1zM171.3 183.5H175.6L173.5 187.6zM174.6 184H178.9L176.7 188.1zM177.3 183.5H181.6L179.5 187.6zM180.6 184H184.9L182.7 188.1zM171.6 171.2H175.9L173.8 175.2zM163.7 173.6H168L165.8 177.7zM166.9 173.8H171.2L169 177.9zM170 173.8H174.3L172.1 177.9zM173 173.5H177.3L175.1 177.6zM176.4 173.4H180.7L178.6 177.5zM179.9 173.5H184.2L182.1 177.6zM164 176.5H168.3L166.1 180.6zM166.8 176.5H171.1L168.9 180.6zM170.4 176.3H174.7L172.5 180.4zM173 176.1H177.3L175.1 180.2zM176.7 176H181L178.8 180.1zM179.5 176H183.8L181.7 180.1zM163.6 178.9H167.9L165.7 183zM166.8 178.6H171.1L169 182.7zM170.3 179H174.6L172.4 183.1zM173.2 178.3H177.5L175.3 182.4zM176.9 178.9H181.2L179.1 183zM180 178.7H184.3L182.1 182.8zM163.5 180.9H167.8L165.7 185zM166.8 181.1H171.1L168.9 185.2zM169.8 181.3H174.1L172 185.4zM173.5 180.8H177.8L175.7 184.9zM176.8 181.2H181.1L179 185.3zM180.1 181.2H184.4L182.2 185.2zM164 183.6H168.3L166.1 187.7zM167 183.7H171.3L169.2 187.8zM169.8 183.4H174.1L171.9 187.5zM173.1 183.6H177.4L175.3 187.7zM176.4 183.7H180.7L178.6 187.8zM179.9 183.6H184.2L182 187.7zM361 100.4H365.2L363.1 104.5zM359.4 103.1H363.6L361.5 107.2zM360.5 111H364.8L362.6 115.1zM360.4 118.5H364.6L362.5 122.6zM360.4 124.2H364.6L362.5 128.3zM359.5 127.4H363.8L361.6 131.5zM354.9 130.2H359.1L357 134.3zM358.1 129.3H362.3L360.2 133.4zM360.9 129.7H365.1L363 133.8zM363.7 129.7H367.9L365.8 133.8zM366 131.1H370.2L368.1 135.2zM355.8 133H360L357.9 137.1zM359.1 133.4H363.3L361.2 137.5zM362.2 133.9H366.5L364.4 138zM365.1 133H369.3L367.2 137.1zM353.1 137.1H357.3L355.2 141.2zM355.4 136.7H359.6L357.5 140.8zM357.7 136.2H361.9L359.8 140.3zM360.4 136.7H364.6L362.5 140.8zM362.8 136.2H367L364.9 140.3zM365.1 137.1H369.3L367.2 141.2zM367.8 136.7H372L369.9 140.8zM354.9 139.4H359.1L357 143.5zM357.2 140.4H361.4L359.3 144.5zM363.7 139.9H367.9L365.8 144zM353.5 142.2H357.8L355.6 146.3zM356.2 142.7H360.5L358.4 146.8zM359.1 142.2H363.3L361.2 146.3zM361.8 143.1H366L363.9 147.2zM364.6 142.7H368.8L366.7 146.8zM367.4 143.1H371.6L369.5 147.2zM349.8 147.3H354L351.9 151.4zM352.6 146.8H356.8L354.7 150.9zM355.4 147.7H359.6L357.5 151.8zM358.1 145.9H362.3L360.2 150zM361.4 146.8H365.6L363.5 150.9zM364.1 147.7H368.3L366.2 151.8zM366.9 145.9H371.1L369 150zM369.7 147.7H373.9L371.8 151.8zM354.9 150.1H359.1L357 154.2zM357.7 151.4H361.9L359.8 155.5zM360.4 151H364.6L362.5 155.1zM362.8 150.1H367L364.9 154.2zM365.5 150.5H369.8L367.6 154.6zM356.8 154.7H361L358.9 158.8zM360 154.7H364.2L362.1 158.8zM362.8 154.2H367L364.9 158.3zM365.5 154.2H369.8L367.6 158.3zM358.6 160.2H362.8L360.7 164.3zM361.4 160.2H365.6L363.5 164.3zM360.4 166.7H364.6L362.5 170.8zM360.2 127.9H364.5L362.4 131.9zM357 130.6H361.3L359.1 134.7zM360.1 130.8H364.4L362.3 134.9zM364.2 131.1H368.5L366.3 135.2zM357.3 133.4H361.6L359.4 137.4zM360.5 133.4H364.8L362.6 137.5zM363.6 133.3H367.9L365.7 137.3zM355.1 136.6H359.4L357.3 140.7zM359 136.5H363.3L361.2 140.6zM362.4 136H366.7L364.5 140.1zM365.4 136.4H369.7L367.5 140.5zM355.5 139.3H359.8L357.7 143.3zM359.1 138.6H363.4L361.2 142.7zM362.2 139.1H366.5L364.4 143.2zM365.6 138.7H369.9L367.7 142.8zM355.3 141.3H359.6L357.5 145.4zM359.1 142H363.4L361.2 146zM362.2 141.5H366.5L364.3 145.6zM365.9 141.7H370.2L368 145.8zM354 144.7H358.3L356.1 148.7zM357.1 144.3H361.4L359.2 148.4zM360.5 144.3H364.8L362.7 148.4zM363.6 144.2H367.9L365.7 148.3zM367.5 144H371.8L369.7 148.1zM353.3 147.2H357.6L355.4 151.3zM356.9 147.1H361.2L359 151.2zM360.4 146.9H364.7L362.6 151zM364.2 146.8H368.5L366.4 150.9zM367.2 146.8H371.5L369.3 150.9zM357.2 149.6H361.5L359.3 153.7zM360.3 150H364.6L362.5 154.1zM363.7 149.8H368L365.9 153.9zM357.4 152.2H361.7L359.5 156.2zM360.1 152.3H364.4L362.2 156.3zM364.1 152.6H368.4L366.2 156.6zM358.5 155H362.8L360.7 159.1zM361.9 155.1H366.2L364 159.2zM540.4 110.8H544.7L542.5 114.9zM542.7 110.8H547L544.8 114.9zM541.4 114H545.7L543.6 118zM541.4 116.6H545.7L543.6 120.6zM540.4 119.2H544.7L542.5 123.2zM543 118.6H547.3L545.1 122.7zM535.7 120.7H540L537.9 124.8zM538.8 120.2H543.1L541 124.3zM542 121.2H546.3L544.1 125.3zM545.1 120.2H549.4L547.2 124.3zM547.7 120.7H552L549.8 124.8zM533.1 123.3H537.4L535.3 127.4zM536.2 124.4H540.5L538.4 128.4zM539.4 124.9H543.7L541.5 129zM542.5 124.4H546.8L544.6 128.4zM545.6 123.8H549.9L547.7 127.9zM548.7 124.9H553L550.9 129zM551.3 125.4H555.6L553.5 129.5zM531.6 128H535.9L533.7 132.1zM534.2 128.5H538.5L536.3 132.6zM537.3 128H541.6L539.4 132.1zM540.9 127.5H545.2L543.1 131.6zM544 128.5H548.3L546.2 132.6zM547.1 128H551.4L549.3 132.1zM550.3 128H554.6L552.4 132.1zM552.9 128.5H557.2L555 132.6zM535.7 133.7H540L537.9 137.8zM538.8 134.2H543.1L541 138.3zM542 133.2H546.3L544.1 137.3zM545.1 133.7H549.4L547.2 137.8zM547.7 134.2H552L549.8 138.3zM537.3 137.3H541.6L539.4 141.4zM540.4 136.8H544.7L542.5 140.9zM543.5 137.9H547.8L545.7 141.9zM546.1 137.3H550.4L548.3 141.4zM536.8 141H541.1L538.9 145.1zM539.4 142H543.7L541.5 146.1zM542.5 140.5H546.8L544.6 144.5zM545.6 141.5H549.9L547.7 145.6zM537.8 147.2H542.1L539.9 151.3zM540.9 147.7H545.2L543.1 151.8zM544 147.2H548.3L546.2 151.3zM546.6 147.2H550.9L548.8 151.3zM538.3 144.6H542.6L540.5 148.7zM539.4 150.3H543.7L541.5 154.4zM542.5 150.8H546.8L544.6 154.9zM545.1 149.8H549.4L547.2 153.9zM541.4 152.9H545.7L543.6 157zM539.4 156.6H543.7L541.5 160.6zM542.5 156.6H546.8L544.6 160.6zM544 158.1H548.3L546.2 162.2zM540.9 160.7H545.2L543.1 164.8zM540.4 163.8H544.7L542.5 167.9zM541.2 110.9H545.5L543.4 115zM541.3 113.6H545.6L543.5 117.6zM541.6 115.7H545.9L543.7 119.8zM539.4 118.9H543.7L541.5 123zM543 118.5H547.3L545.1 122.5zM536.7 121.2H541L538.9 125.3zM540 121.3H544.3L542.2 125.3zM543.3 121H547.6L545.4 125.1zM546.7 121.6H551L548.8 125.7zM534.7 124.1H539L536.8 128.2zM538.2 123.5H542.5L540.3 127.6zM541.7 123.9H546L543.8 128zM544.7 123.5H549L546.8 127.6zM548.5 123.9H552.8L550.7 127.9zM533.1 126.8H537.4L535.3 130.9zM536.5 126.8H540.8L538.7 130.9zM539.7 126.7H544L541.8 130.8zM543.1 126.8H547.4L545.3 130.9zM546.9 126.2H551.2L549 130.2zM549.7 126.2H554L551.8 130.3zM533.3 129H537.6L535.5 133.1zM536.5 128.9H540.8L538.6 133zM539.8 129H544.1L541.9 133.1zM543 129.1H547.3L545.2 133.2zM546.6 129.4H550.9L548.8 133.5zM550.1 129.4H554.4L552.2 133.5zM533.2 132.1H537.5L535.4 136.2zM536.5 131.4H540.8L538.6 135.5zM540 132H544.3L542.2 136.1zM543.5 131.7H547.8L545.6 135.8zM546.7 131.4H551L548.9 135.5zM550.2 131.7H554.5L552.4 135.8zM537.9 133.9H542.2L540 138zM541.7 134.7H546L543.9 138.7zM544.5 134.5H548.8L546.7 138.6zM538 136.6H542.3L540.1 140.7zM541.3 137.1H545.6L543.4 141.2zM545.1 136.5H549.4L547.3 140.6zM538.1 139.1H542.4L540.3 143.2zM541.6 139.3H545.9L543.8 143.4zM545.2 139.9H549.5L547.3 143.9zM538.1 142.5H542.4L540.2 146.6zM541.3 141.7H545.6L543.4 145.8zM544.9 141.7H549.2L547.1 145.8zM537.8 144.6H542.1L540 148.7zM541.5 144.4H545.8L543.7 148.5zM544.5 145H548.8L546.6 149.1zM539.6 147.6H543.9L541.8 151.7zM543.5 147.2H547.8L545.6 151.3zM539.7 149.9H544L541.9 154zM543.3 149.9H547.6L545.4 154zM541.5 152.6H545.8L543.6 156.7zM541.8 155.1H546.1L544 159.2zM539.7 157.8H544L541.8 161.9zM542.9 157.5H547.2L545.1 161.6zM541.8 160.3H546.1L544 164.4zM171.2 353.1H175.5L173.4 357.2zM174.9 353.1H179.2L177.1 357.2zM173.5 355.9H177.8L175.7 360zM170.7 356.8H175L172.9 360.9zM175.9 356.4H180.2L178 360.5zM173.1 358.7H177.4L175.2 362.8zM169.3 362.9H173.6L171.5 367zM172.1 362.4H176.4L174.3 366.5zM174.9 363.4H179.2L177.1 367.5zM177.7 363.8H182L179.9 367.9zM166.5 367.1H170.8L168.7 371.2zM170.3 366.2H174.6L172.4 370.3zM173.1 366.7H177.4L175.2 370.7zM175.9 366.2H180.2L178 370.3zM179.6 367.1H183.9L181.8 371.2zM162.8 369.9H167.1L165 374zM165.6 370.4H169.9L167.8 374.5zM168.4 369.5H172.7L170.6 373.5zM171.7 369.9H176L173.8 374zM174.9 370.4H179.2L177.1 374.5zM178.2 369.9H182.5L180.4 374zM181.5 370.9H185.8L183.6 374.9zM184.3 371.3H188.6L186.4 375.4zM163.7 373.7H168L165.9 377.7zM167 374.1H171.3L169.2 378.2zM170.3 373.2H174.6L172.4 377.3zM173.5 374.1H177.8L175.7 378.2zM176.8 373.7H181.1L179 377.7zM180.1 374.1H184.4L182.2 378.2zM183.3 373.2H187.6L185.5 377.3zM164.7 376.9H169L166.8 381zM168.4 377.4H172.7L170.6 381.5zM171.7 377.4H176L173.8 381.5zM175.4 376.9H179.7L177.6 381zM178.7 377.4H183L180.8 381.5zM181.9 376.9H186.2L184.1 381zM170.3 375.5H174.6L172.4 379.6zM175.9 375.1H180.2L178 379.1zM173.4 354.4H177.7L175.5 358.5zM173.1 356.6H177.4L175.3 360.7zM172.8 359.5H177.1L174.9 363.6zM171.5 362.2H175.8L173.6 366.3zM174.7 362.2H179L176.8 366.3zM169.7 364.8H174L171.8 368.9zM173.3 364.5H177.6L175.5 368.6zM176.5 364.7H180.8L178.6 368.8zM168 367.2H172.3L170.1 371.3zM171.7 367H176L173.9 371.1zM175 367.3H179.3L177.2 371.4zM178.4 367H182.7L180.5 371.1zM166.2 370H170.5L168.4 374.1zM170.1 369.7H174.4L172.2 373.8zM172.8 369.5H177.1L175 373.6zM176.6 369.6H180.9L178.7 373.7zM180.1 369.8H184.4L182.3 373.9zM164.7 372.5H169L166.8 376.6zM168.1 372.7H172.4L170.2 376.8zM171.8 372.4H176.1L174 376.5zM174.9 372.5H179.2L177.1 376.6zM178.3 372.8H182.6L180.5 376.8zM181 372.3H185.3L183.2 376.3zM165 374.8H169.3L167.1 378.9zM168.3 374.6H172.6L170.4 378.7zM171.8 375H176.1L174 379.1zM174.5 375.1H178.8L176.6 379.2zM177.9 374.7H182.2L180.1 378.8zM181.4 374.7H185.7L183.5 378.8zM166.3 377.9H170.6L168.5 381.9zM170 377.2H174.3L172.2 381.3zM173.4 377.2H177.7L175.5 381.3zM176.3 377.9H180.6L178.5 382zM179.8 377.4H184.1L182 381.5zM359.4 290.8H363.7L361.5 294.9zM362.5 290.8H366.8L364.6 294.9zM360.9 293.4H365.2L363.1 297.5zM359.4 294.5H363.7L361.5 298.6zM355.7 296H360L357.9 300.1zM361.4 296.6H365.7L363.6 300.6zM357.8 299.2H362.1L359.9 303.2zM360.9 299.7H365.2L363.1 303.8zM364 299.2H368.3L366.2 303.2zM366.6 299.7H370.9L368.8 303.8zM359.4 302.8H363.7L361.5 306.9zM362.5 302.3H366.8L364.6 306.4zM358.8 304.9H363.1L361 309zM360.9 305.9H365.2L363.1 310zM357.8 308.5H362.1L359.9 312.6zM360.4 308H364.7L362.5 312.1zM366.1 308.5H370.4L368.3 312.6zM355.7 311.1H360L357.9 315.2zM358.8 310.6H363.1L361 314.7zM362 311.6H366.3L364.1 315.7zM364 311.1H368.3L366.2 315.2zM361.4 313.7H365.7L363.6 317.8zM356.2 316.8H360.5L358.4 320.9zM353.1 319.9H357.4L355.3 324zM356.2 319.4H360.5L358.4 323.5zM359.4 318.9H363.7L361.5 323zM362.5 319.4H366.8L364.6 323.5zM365.6 320.5H369.9L367.7 324.5zM368.7 319.9H373L370.9 324zM370.8 320.5H375.1L372.9 324.5zM357.3 324.6H361.6L359.4 328.7zM360.4 325.1H364.7L362.5 329.2zM363.5 324.6H367.8L365.7 328.7zM359.4 327.7H363.7L361.5 331.8zM351 333.4H355.3L353.2 337.5zM354.2 331.9H358.5L356.3 336zM357.3 331.4H361.6L359.4 335.5zM360.4 332.4H364.7L362.5 336.5zM363.5 331.9H367.8L365.7 336zM366.6 330.8H370.9L368.8 334.9zM369.7 331.9H374L371.9 336zM371.8 330.8H376.1L374 334.9zM358.3 335H362.6L360.5 339.1zM362 335H366.3L364.1 339.1zM365.1 334.5H369.4L367.2 338.6zM368.2 334H372.5L370.3 338zM360.9 337.6H365.2L363.1 341.7zM364 338.1H368.3L366.2 342.2zM355.7 341.2H360L357.9 345.3zM358.8 340.7H363.1L361 344.8zM362 340.2H366.3L364.1 344.3zM366.6 340.7H370.9L368.8 344.8zM361.4 344.4H365.7L363.6 348.4zM362.5 346.4H366.8L364.6 350.5zM360.2 350.4H364.4L362.3 354.5zM361 359.3H365.2L363.1 363.4zM362.8 368.9H367L364.9 373zM360.2 371.6H364.4L362.3 375.7zM359 299.9H363.3L361.2 303.9zM363 300H367.3L365.2 304.1zM360.7 302.3H365L362.9 306.4zM360.7 305.2H365L362.8 309.3zM361.3 308H365.6L363.4 312.1zM359.3 311H363.6L361.4 315.1zM362.6 311.2H366.9L364.8 315.3zM357.8 314.3H362.1L359.9 318.4zM360.6 313.9H364.9L362.7 318zM364.3 314.5H368.6L366.4 318.6zM356 317.4H360.3L358.1 321.5zM359.6 317.3H363.9L361.7 321.4zM363.3 317.4H367.6L365.4 321.5zM366.2 317.4H370.5L368.4 321.5zM355.6 320.2H359.9L357.8 324.3zM359.3 319.9H363.6L361.5 324zM362.7 319.9H367L364.9 324zM366.3 319.6H370.6L368.4 323.7zM359.6 323.2H363.9L361.7 327.3zM363.3 323.1H367.6L365.5 327.1zM359.3 326H363.6L361.5 330.1zM362.5 325.9H366.8L364.6 330zM355.6 328.3H359.9L357.7 332.4zM359 328.7H363.3L361.1 332.8zM362.6 328.6H366.9L364.8 332.7zM366.6 328.6H370.9L368.7 332.7zM353.5 331.6H357.8L355.6 335.6zM357.2 331.3H361.5L359.3 335.4zM360.7 331.4H365L362.9 335.5zM364.2 331.7H368.5L366.4 335.8zM368.7 331.5H373L370.9 335.5zM357.7 334.9H362L359.8 339zM360.6 334.1H364.9L362.7 338.2zM365 334.8H369.3L367.1 338.9zM359.4 337H363.7L361.5 341.1zM362.8 337.7H367.1L364.9 341.8zM359.6 340.6H363.9L361.8 344.7zM362.6 340.6H366.9L364.7 344.7zM545.6 321.2H549.9L547.7 325.3zM545.6 331.9H549.9L547.7 336zM545.6 339.2H549.9L547.7 343.3zM545.6 340.7H549.9L547.7 344.7zM543.9 343.7H548.2L546 347.8zM541.1 348.7H545.4L543.2 352.8zM544.4 346.5H548.7L546.6 350.6zM547.8 347.1H552.1L550 351.1zM550.6 348.7H554.9L552.8 352.8zM540.5 350.4H544.8L542.7 354.5zM543.9 351.5H548.2L546 355.6zM546.7 351H551L548.8 355.1zM550.1 352.1H554.4L552.2 356.2zM543.3 354.9H547.6L545.5 359zM546.7 354.9H551L548.8 359zM540.5 359.4H544.8L542.7 363.5zM543.3 358.8H547.6L545.5 362.9zM546.7 358.8H551L548.8 362.9zM550.1 360H554.4L552.2 364zM537.7 362.2H542L539.9 366.3zM541.1 362.8H545.4L543.2 366.9zM544.4 362.2H548.7L546.6 366.3zM547.8 363.3H552.1L550 367.4zM551.2 362.8H555.5L553.3 366.9zM554 363.9H558.3L556.1 368zM539.4 367.3H543.7L541.5 371.3zM542.8 366.7H547.1L544.9 370.8zM546.1 367.8H550.4L548.3 371.9zM549.5 367.3H553.8L551.6 371.3zM552.3 368.4H556.6L554.5 372.5zM537.1 371.2H541.4L539.3 375.3zM540.5 370.6H544.8L542.7 374.7zM544.4 371.2H548.7L546.6 375.3zM547.8 370.1H552.1L550 374.2zM551.7 371.2H556L553.9 375.3zM554 371.8H558.3L556.1 375.8zM534.9 376.2H539.2L537.1 380.3zM538.3 375.1H542.6L540.4 379.2zM541.6 375.7H545.9L543.8 379.8zM545.6 374.6H549.9L547.7 378.6zM548.9 375.7H553.2L551.1 379.8zM552.9 374.6H557.2L555 378.6zM556.2 376.2H560.5L558.4 380.3zM543.5 345.1H547.8L545.6 349.2zM546.7 345.5H551L548.9 349.6zM543.1 348H547.4L545.3 352.1zM547.3 347.6H551.6L549.5 351.7zM543.5 350.9H547.8L545.7 355zM546.6 350.7H550.9L548.8 354.8zM543.7 353.5H548L545.8 357.6zM547.2 353.3H551.5L549.3 357.4zM545 356.1H549.3L547.2 360.1zM543.5 359.5H547.8L545.7 363.6zM547.1 359.4H551.4L549.2 363.5zM539.9 362.2H544.2L542.1 366.3zM543.2 361.8H547.5L545.3 365.9zM547.1 362.2H551.4L549.3 366.2zM550.4 361.6H554.7L552.6 365.7zM539.8 364.5H544.1L542 368.6zM543.3 365H547.6L545.5 369.1zM546.8 365.1H551.1L548.9 369.2zM550.8 364.4H555.1L553 368.5zM539.9 367.6H544.2L542.1 371.7zM543.1 367.5H547.4L545.3 371.6zM547.3 367.3H551.6L549.5 371.3zM550.6 367.3H554.9L552.7 371.4zM538.3 370.7H542.6L540.5 374.8zM541.5 370H545.8L543.7 374.1zM544.9 370.4H549.2L547.1 374.5zM548.4 370H552.7L550.5 374.1zM552.2 370.7H556.5L554.4 374.8zM538.2 373.1H542.5L540.3 377.2zM541.9 372.8H546.2L544 376.9zM545.3 372.9H549.6L547.5 377zM548.8 373.5H553.1L551 377.6zM551.9 373.2H556.2L554 377.3zM538.3 375.7H542.6L540.5 379.8zM541.6 376.4H545.9L543.7 380.5zM545.6 375.7H549.9L547.8 379.8zM548.9 376.3H553.2L551.1 380.4zM552 376.1H556.3L554.2 380.1zM721.6 299.6H725.9L723.7 303.7zM722.4 305H726.6L724.5 309.1zM720.6 306.6H724.9L722.8 310.7zM721.6 314.2H725.9L723.7 318.3zM724.1 317.5H728.4L726.2 321.6zM719.9 319.2H724.1L722 323.3zM721.6 332.1H725.9L723.7 336.2zM719.9 340.2H724.1L722 344.3zM723.1 340.2H727.4L725.3 344.3zM721.5 339.6H725.8L723.7 343.7zM720.1 341H724.4L722.3 345.1zM719.7 344.2H724L721.8 348.3zM715.9 348H720.2L718.1 352.1zM722 348H726.3L724.2 352.1zM728.1 347H732.4L730.2 351.1zM713.6 350.3H717.9L715.8 354.4zM718.3 352.2H722.6L720.4 356.3zM723.9 352.2H728.2L726 356.3zM728.1 351.2H732.4L730.2 355.3zM713.6 355.4H717.9L715.8 359.5zM716.4 354.5H720.7L718.6 358.6zM720.1 354H724.4L722.3 358.1zM723.9 355H728.2L726 359.1zM727.6 355.9H731.9L729.8 360zM730.4 355H734.7L732.6 359.1zM711.7 361H716L713.9 365.1zM714.5 360.6H718.8L716.7 364.7zM717.3 358.7H721.6L719.5 362.8zM720.1 359.6H724.4L722.3 363.7zM722.9 359.2H727.2L725.1 363.3zM725.7 358.2H730L727.9 362.3zM728.5 359.2H732.8L730.7 363.3zM731.3 361H735.6L733.5 365.1zM733.2 361.5H737.5L735.4 365.6zM712.7 363.8H717L714.8 367.9zM715.5 364.3H719.8L717.6 368.4zM718.7 363.4H723L720.9 367.5zM721.5 364.8H725.8L723.7 368.9zM724.3 363.4H728.6L726.5 367.5zM727.6 363.8H731.9L729.8 367.9zM730.4 363.4H734.7L732.6 367.5zM714.5 368.1H718.8L716.7 372.1zM717.3 368.5H721.6L719.5 372.6zM720.1 367.6H724.4L722.3 371.7zM722.9 369H727.2L725.1 373.1zM725.7 368.1H730L727.9 372.1zM728.5 369H732.8L730.7 373.1zM730.4 369.9H734.7L732.6 374zM715.9 372.7H720.2L718.1 376.8zM718.7 372.3H723L720.9 376.3zM722 372.7H726.3L724.2 376.8zM725.3 373.2H729.6L727.4 377.3zM727.6 372.3H731.9L729.8 376.3zM717.3 376H721.6L719.5 380.1zM720.1 375.1H724.4L722.3 379.1zM723.9 375.5H728.2L726 379.6zM726.2 376.5H730.5L728.4 380.5zM718 346.2H722.3L720.2 350.3zM721.9 346.1H726.2L724 350.2zM725.1 346.2H729.4L727.2 350.3zM717.8 349H722.1L719.9 353.1zM721.7 349.2H726L723.8 353.3zM724.7 348.8H729L726.9 352.9zM716 352H720.3L718.1 356.1zM720 351.4H724.3L722.1 355.5zM723.7 352.1H728L725.8 356.2zM726.9 351.9H731.2L729.1 355.9zM716 354.2H720.3L718.2 358.3zM719.8 354.2H724.1L722 358.3zM723.1 354.4H727.4L725.2 358.5zM726.4 354.5H730.7L728.6 358.6zM714.5 357.6H718.8L716.7 361.7zM718.1 357.5H722.4L720.2 361.6zM721.5 357.5H725.8L723.7 361.6zM725 357.2H729.3L727.2 361.3zM728.9 357.8H733.2L731.1 361.9zM714.8 360.3H719.1L717 364.4zM717.9 360H722.2L720.1 364zM721.4 359.8H725.7L723.5 363.9zM725.3 360.1H729.6L727.4 364.2zM728.8 360.1H733.1L731 364.2zM714.9 363.3H719.2L717.1 367.3zM717.7 362.7H722L719.8 366.8zM721.9 362.9H726.2L724 367zM725.4 362.9H729.7L727.6 367zM728.2 363.1H732.5L730.4 367.2zM716.5 365.6H720.8L718.7 369.7zM719.5 365.6H723.8L721.6 369.7zM723.7 366H728L725.8 370.1zM726.5 365.6H730.8L728.6 369.7zM716 368.2H720.3L718.1 372.3zM720 368.3H724.3L722.2 372.4zM723.3 368.5H727.6L725.5 372.6zM726.6 368.8H730.9L728.7 372.8zM717.8 371.5H722.1L719.9 375.6zM721.2 371.3H725.5L723.4 375.4zM724.8 371.2H729.1L727 375.3zM720.2 374.4H724.5L722.3 378.5zM723.1 374.5H727.4L725.3 378.6zM719.6 376.9H723.9L721.7 381zM723.6 377.1H727.9L725.7 381.2z" fill="#111"/><path d="M683.4 110.6L685.3 112.8L683.4 115L681.5 112.8zM683.4 124.9L685.3 127.1L683.4 129.3L681.5 127.1zM683 125.8L684.9 128L683 130.2L681.1 128zM683.5 146.3L685.4 148.5L683.5 150.7L681.6 148.5zM683.5 150.3L685.4 152.5L683.5 154.7L681.6 152.5zM683.5 156.8L685.4 159L683.5 161.2L681.6 159zM683.5 161.3L685.4 163.5L683.5 165.7L681.6 163.5zM682.5 163.8L684.4 166L682.5 168.2L680.6 166zM682.1 165.8L684 168L682.1 170.2L680.3 168zM685.1 165.8L686.9 168L685.1 170.2L683.2 168zM682.1 167.8L684 170L682.1 172.2L680.3 170zM685.1 167.8L686.9 170L685.1 172.2L683.2 170zM680.7 169.8L682.6 172L680.7 174.2L678.8 172zM683.6 169.8L685.5 172L683.6 174.2L681.7 172zM686.5 169.8L688.4 172L686.5 174.2L684.6 172zM680.7 171.8L682.6 174L680.7 176.2L678.8 174zM683.6 171.8L685.5 174L683.6 176.2L681.7 174zM686.5 171.8L688.4 174L686.5 176.2L684.6 174zM677.8 173.8L679.7 176L677.8 178.2L675.9 176zM680.7 173.8L682.6 176L680.7 178.2L678.8 176zM683.6 173.8L685.5 176L683.6 178.2L681.7 176zM686.5 173.8L688.4 176L686.5 178.2L684.6 176zM689.4 173.8L691.3 176L689.4 178.2L687.5 176zM676.4 175.8L678.2 178L676.4 180.2L674.5 178zM679.2 175.8L681.1 178L679.2 180.2L677.4 178zM682.1 175.8L684 178L682.1 180.2L680.3 178zM685.1 175.8L686.9 178L685.1 180.2L683.2 178zM688 175.8L689.8 178L688 180.2L686.1 178zM690.9 175.8L692.7 178L690.9 180.2L689 178zM673.5 177.8L675.3 180L673.5 182.2L671.6 180zM676.4 177.8L678.2 180L676.4 182.2L674.5 180zM679.2 177.8L681.1 180L679.2 182.2L677.4 180zM682.1 177.8L684 180L682.1 182.2L680.3 180zM685.1 177.8L686.9 180L685.1 182.2L683.2 180zM688 177.8L689.8 180L688 182.2L686.1 180zM690.9 177.8L692.7 180L690.9 182.2L689 180zM693.8 177.8L695.6 180L693.8 182.2L691.9 180zM673.5 179.8L675.3 182L673.5 184.2L671.6 182zM676.4 179.8L678.2 182L676.4 184.2L674.5 182zM679.2 179.8L681.1 182L679.2 184.2L677.4 182zM682.1 179.8L684 182L682.1 184.2L680.3 182zM685.1 179.8L686.9 182L685.1 184.2L683.2 182zM688 179.8L689.8 182L688 184.2L686.1 182zM690.9 179.8L692.7 182L690.9 184.2L689 182zM693.8 179.8L695.6 182L693.8 184.2L691.9 182zM674.9 181.6L676.8 183.8L674.9 186L673 183.8zM677.8 181.6L679.7 183.8L677.8 186L675.9 183.8zM680.7 181.6L682.6 183.8L680.7 186L678.8 183.8zM683.6 181.6L685.5 183.8L683.6 186L681.7 183.8zM686.5 181.6L688.4 183.8L686.5 186L684.6 183.8zM689.4 181.6L691.3 183.8L689.4 186L687.5 183.8zM692.3 181.6L694.2 183.8L692.3 186L690.4 183.8zM683.4 165.9L685.2 168.1L683.4 170.3L681.5 168.1zM683.7 167.8L685.6 170L683.7 172.2L681.8 170zM682.3 169.1L684.2 171.3L682.3 173.5L680.4 171.3zM684.9 169.3L686.8 171.5L684.9 173.7L683 171.5zM681.2 171L683.1 173.2L681.2 175.4L679.3 173.2zM683.5 171.1L685.4 173.3L683.5 175.5L681.7 173.3zM685.7 170.7L687.5 172.9L685.7 175.1L683.8 172.9zM680.4 172.5L682.3 174.7L680.4 176.9L678.5 174.7zM682.3 172.8L684.2 175L682.3 177.2L680.4 175zM684.8 172.4L686.7 174.6L684.8 176.8L683 174.6zM687.1 172.7L689 174.9L687.1 177.1L685.2 174.9zM678.8 174.4L680.7 176.6L678.8 178.8L676.9 176.6zM681.1 174.2L682.9 176.4L681.1 178.6L679.2 176.4zM683.3 174.1L685.2 176.3L683.3 178.5L681.5 176.3zM686.2 174.2L688.1 176.4L686.2 178.6L684.3 176.4zM688.5 174.3L690.4 176.5L688.5 178.7L686.6 176.5zM675.6 176.2L677.5 178.4L675.6 180.6L673.7 178.4zM678 175.8L679.8 178L678 180.2L676.1 178zM680.2 176.1L682.1 178.3L680.2 180.5L678.3 178.3zM682.3 175.8L684.1 178L682.3 180.2L680.4 178zM685 176L686.8 178.2L685 180.4L683.1 178.2zM686.9 176L688.7 178.2L686.9 180.4L685 178.2zM689.2 176.2L691.1 178.4L689.2 180.6L687.3 178.4zM691.7 175.8L693.5 178L691.7 180.2L689.8 178zM674.6 177.5L676.5 179.7L674.6 181.9L672.7 179.7zM676.6 177.4L678.4 179.6L676.6 181.8L674.7 179.6zM679.1 177.5L681 179.7L679.1 181.9L677.3 179.7zM681.3 177.5L683.2 179.7L681.3 181.9L679.4 179.7zM683.6 177.8L685.5 180L683.6 182.2L681.7 180zM685.9 177.7L687.8 179.9L685.9 182.1L684.1 179.9zM688.2 177.7L690.1 179.9L688.2 182.1L686.3 179.9zM690.6 177.5L692.4 179.7L690.6 181.9L688.7 179.7zM692.8 177.5L694.7 179.7L692.8 181.9L690.9 179.7zM674.6 179.7L676.5 181.9L674.6 184.1L672.7 181.9zM676.4 179.2L678.3 181.4L676.4 183.6L674.6 181.4zM679.1 179.4L681 181.6L679.1 183.8L677.3 181.6zM681 179.5L682.9 181.7L681 183.9L679.1 181.7zM683.9 179.4L685.7 181.6L683.9 183.8L682 181.6zM685.8 179.4L687.7 181.6L685.8 183.8L683.9 181.6zM688.5 179.3L690.3 181.5L688.5 183.7L686.6 181.5zM690.4 179.2L692.3 181.4L690.4 183.6L688.5 181.4zM692.9 179.4L694.7 181.6L692.9 183.8L691 181.6zM674.3 181L676.1 183.2L674.3 185.4L672.4 183.2zM676.4 181L678.3 183.2L676.4 185.4L674.6 183.2zM679.3 181.2L681.2 183.4L679.3 185.6L677.4 183.4zM681.2 181.4L683 183.6L681.2 185.8L679.3 183.6zM683.5 181L685.4 183.2L683.5 185.4L681.6 183.2zM685.6 180.9L687.5 183.1L685.6 185.3L683.8 183.1zM688 180.9L689.9 183.1L688 185.3L686.1 183.1zM690.7 181L692.6 183.2L690.7 185.4L688.9 183.2zM692.6 181.2L694.5 183.4L692.6 185.6L690.8 183.4z" fill="#111"/><path d="M717.1 128a2.3 2.3 0 1 0 4.6 0a2.3 2.3 0 1 0 -4.6 0M717.2 166.2a2.3 2.3 0 1 0 4.6 0a2.3 2.3 0 1 0 -4.6 0M717.5 169.2a2.3 2.3 0 1 0 4.6 0a2.3 2.3 0 1 0 -4.6 0M716.3 171.5a2.3 2.3 0 1 0 4.6 0a2.3 2.3 0 1 0 -4.6 0" fill="none" stroke="#111" stroke-width="1.45"/>
</svg></body></html>
